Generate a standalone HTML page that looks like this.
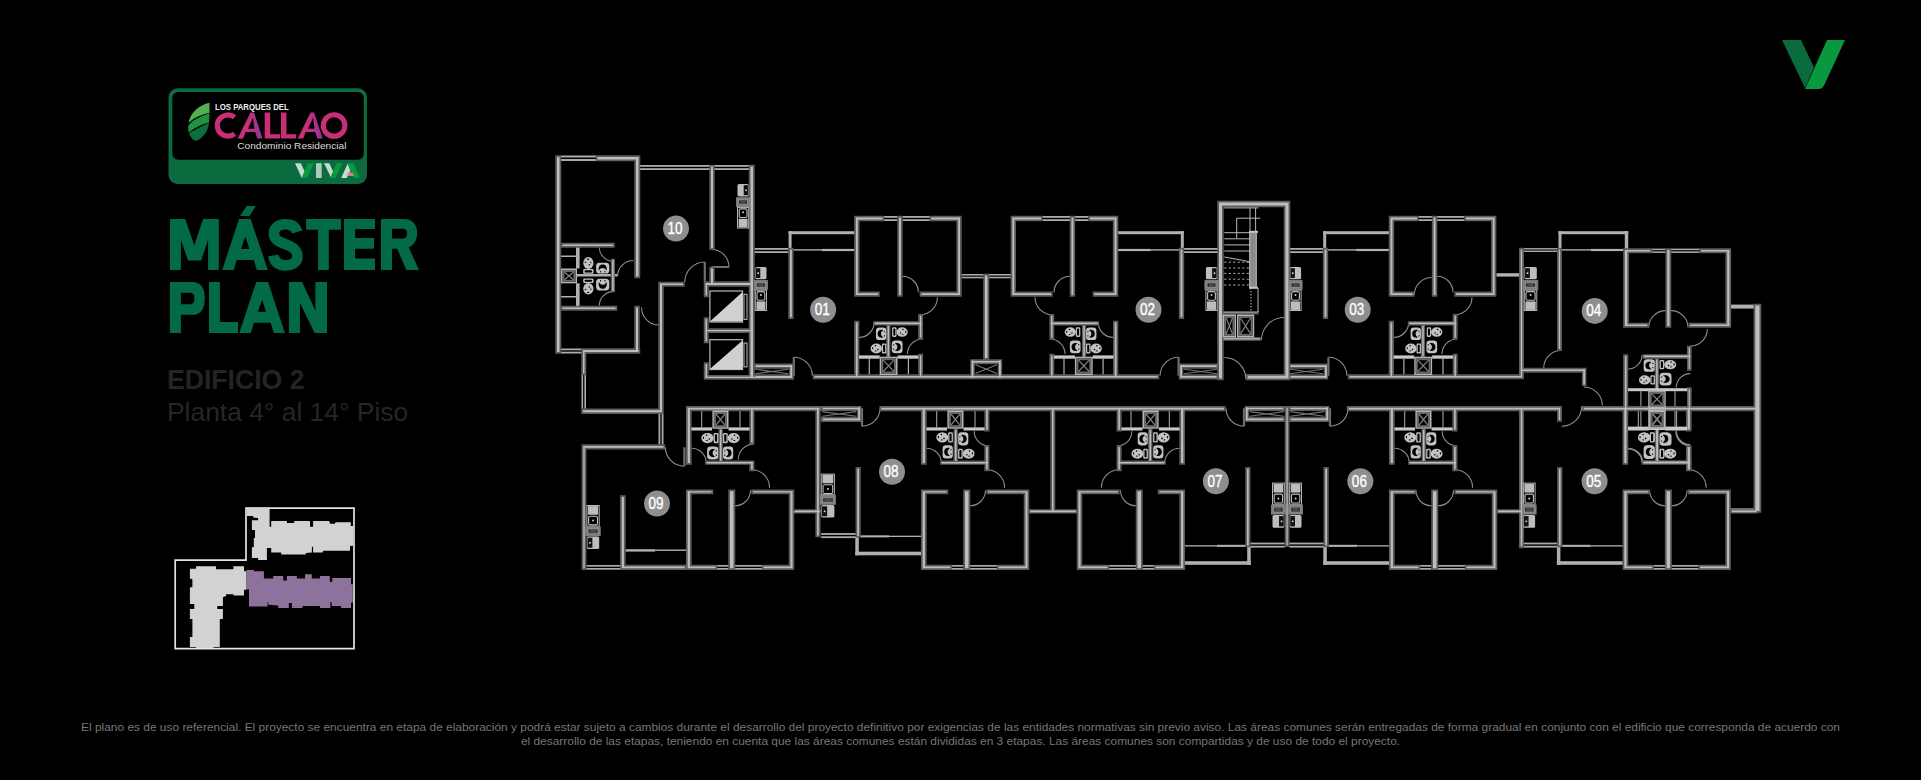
<!DOCTYPE html>
<html><head><meta charset="utf-8">
<style>
html,body{margin:0;padding:0;background:#000;}
body{width:1921px;height:780px;position:relative;overflow:hidden;font-family:"Liberation Sans",sans-serif;}
.abs{position:absolute;}
#title{left:167px;top:213px;color:#036a47;font-weight:bold;font-size:72px;line-height:63px;transform-origin:0 0;transform:scaleX(0.85);letter-spacing:-1px;-webkit-text-stroke:1.2px #036a47;white-space:nowrap;}
#ed{left:167px;top:365px;color:#242424;font-weight:bold;font-size:28px;line-height:30px;white-space:nowrap;transform-origin:0 0;transform:scaleX(0.95);}
#pl{left:167px;top:397px;color:#262626;font-size:26.4px;line-height:30px;white-space:nowrap;}
#foot{left:0;top:719.5px;width:1921px;text-align:center;color:#767676;font-size:10.6px;line-height:14px;transform-origin:960.5px 0;transform:scaleX(1.125);}
svg{position:absolute;left:0;top:0;}
</style></head>
<body>
<div id="ed" class="abs">EDIFICIO 2</div>
<div id="pl" class="abs">Planta 4° al 14° Piso</div>
<div id="foot" class="abs">El plano es de uso referencial. El proyecto se encuentra en etapa de elaboración y podrá estar sujeto a cambios durante el desarrollo del proyecto definitivo por exigencias de las entidades normativas sin previo aviso. Las áreas comunes serán entregadas de forma gradual en conjunto con el edificio que corresponda de acuerdo con<br>el desarrollo de las etapas, teniendo en cuenta que las áreas comunes están divididas en 3 etapas. Las áreas comunes son compartidas y de uso de todo el proyecto.</div>
<svg width="1921" height="780" viewBox="0 0 1921 780">
<!-- top-right V logo -->
<path d="M1782 40 H1801 L1814 67.5 L1805 88 Z" fill="#0b6b3e"/>
<path d="M1827 40 H1845 L1824.5 84.5 Q1822.5 89 1819 89 H1805 Z" fill="#09983f"/>
<!-- title MÁSTER PLAN -->
<g fill="#036a47">
<path d="M170 219 H185.2 L194.3 245.2 L203 219 H218.85 V270 H208.1 V239.9 L201.1 260.6 H188.1 L180.9 239.9 V270 H170 Z"/>
<path fill-rule="evenodd" d="M222.2 270 L239 219 H250.6 L267.9 270 H256.8 L253.9 260.1 H236.6 L233.75 270 Z M241 249 L245.3 236.5 L249.3 249 Z"/>
<path d="M240 215.9 L246.7 206 H255.9 L249.6 215.9 Z"/>
<path fill="none" stroke="#036a47" stroke-width="10.6" d="M297.2 232 C295.5 226.5 291 224.3 285.5 224.3 C278.5 224.3 273.9 228 273.9 233.6 C273.9 240 279.5 242.2 285.5 244.2 C292 246.4 297.4 249.2 297.4 256.6 C297.4 262 292.5 265.4 285.5 265.4 C278.5 265.4 274.4 262 273.4 255.5"/>
<path d="M306.1 219 H341 V229.8 H328.8 V270 H318.1 V229.8 H306.1 Z"/>
<path d="M344 219 H375 V229 H355.1 V238 H374 V248.8 H355.1 V258.6 H375 V270 H344 Z"/>
<path fill-rule="evenodd" d="M381 219 H404 C412.8 219 417.2 224.8 417.2 233 C417.2 240.2 413.8 245.4 408.8 247.4 L419 270 H406.4 L397.2 248.8 H392 V270 H381 Z M392 228.8 H403.3 C406.2 228.8 407 231 407 233.6 C407 236.4 406.2 238.6 403.3 238.6 H392 Z"/>
<path fill-rule="evenodd" d="M169.9 282 H192.5 C200.5 282 204.8 287.5 204.8 298.4 C204.8 309.2 200.5 314.8 192.5 314.8 H180.9 V333 H169.9 Z M180.9 292.7 H190 C193.6 292.7 194.4 295.3 194.4 298.4 C194.4 301.6 193.6 304.2 190 304.2 H180.9 Z"/>
<path d="M209 282 H219.9 V321.9 H238 V333 H209 Z"/>
<path fill-rule="evenodd" d="M239.3 333 L256.2 282 H268.1 L284.9 333 H273.8 L270.75 322.8 H253.9 L250.8 333 Z M257.9 311.7 L262.2 299.8 L265.9 311.7 Z"/>
<path d="M288.9 282 H302.2 L315.4 310.8 V282 H327 V333 H314.6 L300 303 V333 H288.9 Z"/>
</g>
<!-- callao logo -->
<defs>
<linearGradient id="cg" x1="0" x2="1" y1="0" y2="0"><stop offset="0" stop-color="#cc2f78"/><stop offset="0.5" stop-color="#b23489"/><stop offset="1" stop-color="#c8307c"/></linearGradient>
<linearGradient id="vg" x1="0" x2="1" y1="0" y2="0"><stop offset="0" stop-color="#bcd4c8"/><stop offset="0.22" stop-color="#9ccdb0"/><stop offset="0.3" stop-color="#1da64c"/><stop offset="0.45" stop-color="#bcd4c8"/><stop offset="0.55" stop-color="#1da64c"/><stop offset="0.75" stop-color="#bcd4c8"/><stop offset="1" stop-color="#1da64c"/></linearGradient>
</defs>
<g>
<rect x="168.5" y="88.3" width="198.5" height="95.6" rx="9" fill="#0b6a3e"/>
<rect x="172.3" y="92" width="191.5" height="67.8" rx="6" fill="#000"/>
<path d="M209.5 102.7 C199 105 190 113 188.5 123 C195 117 202 114.5 209.5 113 Z" fill="#52b04e"/>
<path d="M209.5 113.5 C200 116 191 121 188.2 126 C188 129 188.5 131 189 132.5 C196 127 203 124 209 122.5 Z" fill="#1f9143"/>
<path d="M209 123 C201 126.5 194 130 189.2 133 C190.5 138 193 140.5 197 140.8 C204 137 208 131 209 123 Z" fill="#0d6d3f"/>
<text x="215" y="109.6" font-family="Liberation Sans" font-weight="bold" font-size="8.8" fill="#eeeeee" transform="translate(215 0) scale(0.885 1) translate(-215 0)">LOS PARQUES DEL</text>
<defs><linearGradient id="ag" x1="0" x2="1" y1="0" y2="0"><stop offset="0.35" stop-color="#cb2f78"/><stop offset="1" stop-color="#8a3797"/></linearGradient></defs>
<path d="M234.6 117.3 A10.6 10.6 0 1 0 234.6 133.7" fill="none" stroke="#ca2e76" stroke-width="5.1"/>
<path fill-rule="evenodd" fill="url(#ag)" d="M237.7 138.6 L250.5 112.4 H254 L262.5 138.6 H257.2 L255.2 132 H245.5 L243.2 138.6 Z M247.9 128.8 L253 117.8 L254.3 128.8 Z"/>
<path fill="#ca2e76" d="M264.7 112.4 H270.2 V134.2 H280 V138.6 H264.7 Z M281 112.4 H286.5 V134.2 H296 V138.6 H281 Z"/>
<path fill-rule="evenodd" fill="url(#ag)" transform="translate(60.1 0)" d="M237.7 138.6 L250.5 112.4 H254 L262.5 138.6 H257.2 L255.2 132 H245.5 L243.2 138.6 Z M247.9 128.8 L253 117.8 L254.3 128.8 Z"/>
<circle cx="334.1" cy="125.5" r="10.8" fill="none" stroke="#ca2e76" stroke-width="5"/>
<text x="237.3" y="149.2" font-family="Liberation Sans" font-size="9.6" fill="#dddddd" transform="translate(237.3 0) scale(1.055 1) translate(-237.3 0)">Condominio Residencial</text>
<path d="M295 163.2 H300.8 L305.2 172.5 L301.8 178 Z M324 163.2 H329.4 L333.6 172.5 L331 177.5 Z M341.2 178 L347.6 163.8 L350.4 170.6 L346.8 178 Z" fill="#c4dacf"/>
<path d="M308 163.2 H314 L307 178 H301.5 Z M336.5 163.2 H342.3 L335.3 178 H330.2 Z M347.4 163.2 H353.4 L359.8 178 H354 Z" fill="#0a9a3e"/>
<rect x="316" y="163.2" width="5.7" height="14.8" fill="#a9cbbb"/>
<path d="M348.2 172.6 H352.5 L353.8 176.1 H347.2 Z" fill="#e67b8b"/>
</g>
<!-- location mini map -->
<path d="M246 508.1 H354 V648.6 H175.2 V560.1 H246 Z" fill="none" stroke="#e4e4e4" stroke-width="1.7"/>
<path d="M246.9 507.6 L269.6 507.6 L269.6 526.8 L271.2 526.8 L271.2 521.1 L286.9 521.1 L286.9 523 L294.2 523 L294.2 521.1 L310 521.1 L310 526.8 L313.1 526.8 L313.1 521.1 L329.2 521.1 L330 523.8 L335 523.8 L335.4 522.2 L350.8 522.2 L350.8 525.9 L353.1 525.9 L353.1 545.7 L350 546.1 L350 550.7 L323.1 550.7 L322.7 552.6 L313.1 552.6 L313.1 546.8 L311.9 546.8 L311.9 552.6 L305.8 553 L305.8 554.5 L281.2 554.5 L281.2 552.6 L271.2 552.6 L271.2 548 L266.9 548 L266.9 559.9 L258.1 559.9 L258.1 558 L251.9 558 L251.9 547.2 L253.8 547.2 L253.8 538 L255 538 L255 529.9 L251.9 529.9 L251.9 520.3 L258.1 520.3 L258.1 518 L253.1 517.6 L253.1 516.1 L246.9 516.1 Z" fill="#d2d2d0"/>
<path d="M196.1 566.2 L216 566.2 L216 569.3 L233.4 569.3 L233.4 566.2 L244 566.2 L244 571.2 L246.5 571.2 L246.5 589.8 L244 589.8 L244 595.4 L233.4 595.4 L233.4 594.2 L226 594.2 L226 596 L222.9 597.3 L222.9 606 L217.3 606 L217.3 609.1 L222.9 609.1 L222.9 619 L219.8 619 L219.8 647 L213.5 647 L213.5 648 L196.1 648 L196.1 647 L189.9 647 L189.9 637.1 L192.4 637.1 L192.4 619 L189.9 619 L189.9 609.1 L194.3 609.1 L194.3 604.1 L189.9 604.1 L189.9 587.3 L192.4 587.3 L192.4 579.3 L189.9 578.6 L189.9 568.7 L196.1 568.7 Z" fill="#d2d2d0"/>
<path d="M246.5 569.9 L254 569.9 L254 571.2 L263.9 571.2 L263.9 578.6 L273.2 578.6 L273.2 576.1 L283.2 576.1 L283.2 580.5 L286.9 580.5 L286.9 576.1 L296.9 576.1 L296.9 578.6 L305 578.6 L305 574.3 L311.8 574.3 L311.8 578.6 L319.9 578.6 L319.9 576.1 L329.8 576.1 L329.8 581.7 L332.3 581.7 L332.3 578 L351 578 L351 584.2 L352.8 584.2 L352.8 602.3 L351 602.9 L351 607.9 L341 607.9 L341 606 L331.7 606 L331.7 602.3 L330.4 602.3 L330.4 607.9 L319.9 607.9 L319.9 606 L302.5 606 L302.5 607.9 L291.9 607.9 L291.9 602.9 L288.8 602.9 L288.8 607.9 L278.2 607.9 L278.2 605.4 L268.3 604.8 L268.3 602.3 L267.6 602.3 L267.6 606.6 L249 606.6 L249 589.2 L246.5 589.2 Z" fill="#8d729c"/>
<rect x="561" y="155.5" width="35" height="1.98" fill="#ababab"/>
<rect x="561" y="159.02" width="35" height="1.98" fill="#ababab"/>
<rect x="640" y="165" width="110" height="1.8" fill="#ababab"/>
<rect x="640" y="168.2" width="110" height="1.8" fill="#ababab"/>
<rect x="561" y="348.5" width="21" height="1.8" fill="#ababab"/>
<rect x="561" y="351.7" width="21" height="1.8" fill="#ababab"/>
<rect x="581.5" y="375" width="1.62" height="33.8" fill="#ababab"/>
<rect x="584.38" y="375" width="1.62" height="33.8" fill="#ababab"/>
<rect x="658.5" y="413.7" width="1.8" height="30.9" fill="#ababab"/>
<rect x="661.7" y="413.7" width="1.8" height="30.9" fill="#ababab"/>
<rect x="754.5" y="248" width="34" height="1.8" fill="#ababab"/>
<rect x="754.5" y="251.2" width="34" height="1.8" fill="#ababab"/>
<rect x="884" y="216" width="13.5" height="1.8" fill="#ababab"/>
<rect x="884" y="219.2" width="13.5" height="1.8" fill="#ababab"/>
<rect x="902.4" y="216" width="27.4" height="1.8" fill="#ababab"/>
<rect x="902.4" y="219.2" width="27.4" height="1.8" fill="#ababab"/>
<rect x="961.5" y="274" width="24.7" height="1.55" fill="#ababab"/>
<rect x="961.5" y="276.75" width="24.7" height="1.55" fill="#ababab"/>
<rect x="1183.9" y="248" width="34" height="1.8" fill="#ababab"/>
<rect x="1183.9" y="251.2" width="34" height="1.8" fill="#ababab"/>
<rect x="1074.9" y="216" width="13.5" height="1.8" fill="#ababab"/>
<rect x="1074.9" y="219.2" width="13.5" height="1.8" fill="#ababab"/>
<rect x="1042.6" y="216" width="27.4" height="1.8" fill="#ababab"/>
<rect x="1042.6" y="219.2" width="27.4" height="1.8" fill="#ababab"/>
<rect x="986.2" y="274" width="24.7" height="1.55" fill="#ababab"/>
<rect x="986.2" y="276.75" width="24.7" height="1.55" fill="#ababab"/>
<rect x="1289.1" y="248" width="34" height="1.8" fill="#ababab"/>
<rect x="1289.1" y="251.2" width="34" height="1.8" fill="#ababab"/>
<rect x="1418.6" y="216" width="13.5" height="1.8" fill="#ababab"/>
<rect x="1418.6" y="219.2" width="13.5" height="1.8" fill="#ababab"/>
<rect x="1437" y="216" width="27.4" height="1.8" fill="#ababab"/>
<rect x="1437" y="219.2" width="27.4" height="1.8" fill="#ababab"/>
<rect x="1523.7" y="248.1" width="33.6" height="1.4" fill="#ababab"/>
<rect x="1523.7" y="250.6" width="33.6" height="1.4" fill="#ababab"/>
<rect x="1651.9" y="248.6" width="13.8" height="1.55" fill="#ababab"/>
<rect x="1651.9" y="251.35" width="13.8" height="1.55" fill="#ababab"/>
<rect x="1671" y="248.6" width="28.5" height="1.55" fill="#ababab"/>
<rect x="1671" y="251.35" width="28.5" height="1.55" fill="#ababab"/>
<rect x="1420" y="565" width="11.5" height="1.69" fill="#ababab"/>
<rect x="1420" y="568.01" width="11.5" height="1.69" fill="#ababab"/>
<rect x="1438" y="565" width="27" height="1.69" fill="#ababab"/>
<rect x="1438" y="568.01" width="27" height="1.69" fill="#ababab"/>
<rect x="1142.5" y="565" width="11.5" height="1.69" fill="#ababab"/>
<rect x="1142.5" y="568.01" width="11.5" height="1.69" fill="#ababab"/>
<rect x="1109" y="565" width="27" height="1.69" fill="#ababab"/>
<rect x="1109" y="568.01" width="27" height="1.69" fill="#ababab"/>
<rect x="952" y="565" width="11.5" height="1.69" fill="#ababab"/>
<rect x="952" y="568.01" width="11.5" height="1.69" fill="#ababab"/>
<rect x="970" y="565" width="27" height="1.69" fill="#ababab"/>
<rect x="970" y="568.01" width="27" height="1.69" fill="#ababab"/>
<rect x="1653.6" y="565" width="11.5" height="1.69" fill="#ababab"/>
<rect x="1653.6" y="568.01" width="11.5" height="1.69" fill="#ababab"/>
<rect x="1671.6" y="565" width="27" height="1.69" fill="#ababab"/>
<rect x="1671.6" y="568.01" width="27" height="1.69" fill="#ababab"/>
<rect x="717" y="565" width="11.5" height="1.69" fill="#ababab"/>
<rect x="717" y="568.01" width="11.5" height="1.69" fill="#ababab"/>
<rect x="735" y="565" width="27" height="1.69" fill="#ababab"/>
<rect x="735" y="568.01" width="27" height="1.69" fill="#ababab"/>
<rect x="1289.2" y="542.6" width="34.6" height="1.8" fill="#ababab"/>
<rect x="1289.2" y="545.8" width="34.6" height="1.8" fill="#ababab"/>
<rect x="1250.2" y="542.6" width="34.6" height="1.8" fill="#ababab"/>
<rect x="1250.2" y="545.8" width="34.6" height="1.8" fill="#ababab"/>
<rect x="1522.8" y="542.6" width="34.6" height="1.8" fill="#ababab"/>
<rect x="1522.8" y="545.8" width="34.6" height="1.8" fill="#ababab"/>
<rect x="821.2" y="533.1" width="34.6" height="1.8" fill="#ababab"/>
<rect x="821.2" y="536.3" width="34.6" height="1.8" fill="#ababab"/>
<rect x="586.2" y="565" width="35.3" height="1.69" fill="#ababab"/>
<rect x="586.2" y="568.01" width="35.3" height="1.69" fill="#ababab"/>
<rect x="576" y="247" width="3.6" height="21.5" fill="#b0b0b0"/>
<rect x="576" y="283.3" width="3.6" height="22.7" fill="#b0b0b0"/>
<rect x="577" y="274" width="40" height="2.5" fill="#b0b0b0"/>
<rect x="561" y="255.5" width="15" height="1.5" fill="#b0b0b0"/>
<rect x="561" y="296" width="15" height="1.5" fill="#b0b0b0"/>
<rect x="788.6" y="231.2" width="3" height="17.8" fill="#b0b0b0"/>
<rect x="788.6" y="231.2" width="65.9" height="3" fill="#b0b0b0"/>
<rect x="793.3" y="249.2" width="28.2" height="1.4" fill="#b0b0b0"/>
<rect x="821.5" y="248.9" width="33" height="2.2" fill="#b0b0b0"/>
<rect x="868.7" y="358.7" width="1.2" height="15.7" fill="#b0b0b0"/>
<rect x="907.8" y="358.7" width="1.2" height="15.7" fill="#b0b0b0"/>
<rect x="1180.8" y="231.2" width="3" height="17.8" fill="#b0b0b0"/>
<rect x="1117.9" y="231.2" width="65.9" height="3" fill="#b0b0b0"/>
<rect x="1150.9" y="249.2" width="28.2" height="1.4" fill="#b0b0b0"/>
<rect x="1117.9" y="248.9" width="33" height="2.2" fill="#b0b0b0"/>
<rect x="1102.5" y="358.7" width="1.2" height="15.7" fill="#b0b0b0"/>
<rect x="1063.4" y="358.7" width="1.2" height="15.7" fill="#b0b0b0"/>
<rect x="1323.2" y="231.2" width="3" height="17.8" fill="#b0b0b0"/>
<rect x="1323.2" y="231.2" width="65.9" height="3" fill="#b0b0b0"/>
<rect x="1327.9" y="249.2" width="28.2" height="1.4" fill="#b0b0b0"/>
<rect x="1356.1" y="248.9" width="33" height="2.2" fill="#b0b0b0"/>
<rect x="1403.3" y="358.7" width="1.2" height="15.7" fill="#b0b0b0"/>
<rect x="1442.4" y="358.7" width="1.2" height="15.7" fill="#b0b0b0"/>
<rect x="1496.4" y="273.2" width="22.8" height="3.4" fill="#b0b0b0"/>
<rect x="1558.5" y="231.2" width="3" height="17.8" fill="#b0b0b0"/>
<rect x="1558.5" y="231.2" width="69.7" height="3" fill="#b0b0b0"/>
<rect x="1624.8" y="231.2" width="3.4" height="20.8" fill="#b0b0b0"/>
<rect x="1561.7" y="249.2" width="29.3" height="1.4" fill="#b0b0b0"/>
<rect x="1591" y="248.9" width="32.4" height="2.2" fill="#b0b0b0"/>
<rect x="1730.9" y="304.6" width="23.6" height="4" fill="#b0b0b0"/>
<rect x="1730.5" y="508.4" width="24" height="3.8" fill="#b0b0b0"/>
<rect x="1640.4" y="391.2" width="1" height="14.8" fill="#b0b0b0"/>
<rect x="1674.5" y="391.2" width="1" height="14.8" fill="#b0b0b0"/>
<rect x="1640.4" y="411" width="1" height="15.6" fill="#b0b0b0"/>
<rect x="1674.5" y="411" width="1" height="15.6" fill="#b0b0b0"/>
<rect x="1404.2" y="411" width="1" height="16.4" fill="#b0b0b0"/>
<rect x="1442.5" y="411" width="1" height="16.4" fill="#b0b0b0"/>
<rect x="1168.8" y="411" width="1" height="16.4" fill="#b0b0b0"/>
<rect x="1130.5" y="411" width="1" height="16.4" fill="#b0b0b0"/>
<rect x="936.2" y="411" width="1" height="16.4" fill="#b0b0b0"/>
<rect x="974.5" y="411" width="1" height="16.4" fill="#b0b0b0"/>
<rect x="1637.8" y="411" width="1" height="16.4" fill="#b0b0b0"/>
<rect x="1676.1" y="411" width="1" height="16.4" fill="#b0b0b0"/>
<rect x="701.2" y="411" width="1" height="16.4" fill="#b0b0b0"/>
<rect x="739.5" y="411" width="1" height="16.4" fill="#b0b0b0"/>
<rect x="1323.3" y="546" width="3.5" height="18.8" fill="#b0b0b0"/>
<rect x="1323.3" y="561.2" width="65.9" height="3.6" fill="#b0b0b0"/>
<rect x="1328.5" y="544.8" width="28.5" height="2.1" fill="#b0b0b0"/>
<rect x="1357" y="545.2" width="32.2" height="1.3" fill="#b0b0b0"/>
<rect x="1247.2" y="546" width="3.5" height="18.8" fill="#b0b0b0"/>
<rect x="1184.8" y="561.2" width="65.9" height="3.6" fill="#b0b0b0"/>
<rect x="1217" y="544.8" width="28.5" height="2.1" fill="#b0b0b0"/>
<rect x="1184.8" y="545.2" width="32.2" height="1.3" fill="#b0b0b0"/>
<rect x="1556.9" y="546" width="3.5" height="18.8" fill="#b0b0b0"/>
<rect x="1556.9" y="561.2" width="65.9" height="3.6" fill="#b0b0b0"/>
<rect x="1562.1" y="544.8" width="28.5" height="2.1" fill="#b0b0b0"/>
<rect x="1590.6" y="545.2" width="32.2" height="1.3" fill="#b0b0b0"/>
<rect x="855.3" y="536.5" width="3.5" height="18.8" fill="#b0b0b0"/>
<rect x="855.3" y="551.7" width="65.9" height="3.6" fill="#b0b0b0"/>
<rect x="860.5" y="535.3" width="28.5" height="2.1" fill="#b0b0b0"/>
<rect x="889" y="535.7" width="32.2" height="1.3" fill="#b0b0b0"/>
<rect x="625.4" y="549.2" width="29.6" height="2.4" fill="#b0b0b0"/>
<rect x="655" y="549.5" width="31.2" height="1.4" fill="#b0b0b0"/>
<path d="M599.3 247.2 A14 14 0 0 0 613.3 261.2 M599.3 305.6 A14 14 0 0 1 613.3 291.6 M617.5 276.5 A16 16 0 0 1 633.5 260.5 M641.5 307.5 A17.5 17.5 0 0 0 659 325 M684.8 282 A20 20 0 0 1 704.8 262 M711.5 249.5 A17.5 17.5 0 0 1 729 267 M902.4 276.3 A16 16 0 0 1 918.4 292.3 M937.4 297.2 A17.5 17.5 0 0 1 919.9 314.7 M874.1 322.4 A15 15 0 0 1 859.1 337.4 M922.4 339 A15 15 0 0 0 907.4 354 M793.8 357.3 A18.5 18.5 0 0 1 812.3 375.8 M1070 276.3 A16 16 0 0 0 1054 292.3 M1035 297.2 A17.5 17.5 0 0 0 1052.5 314.7 M1098.3 322.4 A15 15 0 0 0 1113.3 337.4 M1050 339 A15 15 0 0 1 1065 354 M1178.6 357.3 A18.5 18.5 0 0 0 1160.1 375.8 M1437 276.3 A16 16 0 0 1 1453 292.3 M1472 297.2 A17.5 17.5 0 0 1 1454.5 314.7 M1408.7 322.4 A15 15 0 0 1 1393.7 337.4 M1457 339 A15 15 0 0 0 1442 354 M1328.4 357.3 A18.5 18.5 0 0 1 1346.9 375.8 M1414.3 295 A17.5 17.5 0 0 1 1431.8 277.5 M1261.5 340 A22.5 22.5 0 0 1 1284 317.5 M1224.3 357.5 A21.5 21.5 0 0 1 1245.8 379 M1648.7 327.6 A17 17 0 0 1 1665.7 310.6 M1671 310.6 A17 17 0 0 1 1688 327.6 M1707.3 329.1 A17 17 0 0 1 1690.3 346.1 M1543.7 368 A17.5 17.5 0 0 1 1561.2 350.5 M1583.8 387 A18.5 18.5 0 0 1 1602.3 405.5 M1581.7 406.2 A20 20 0 0 1 1561.7 426.2 M1642 355 A14 14 0 0 1 1628 369 M1690.3 373.6 A14 14 0 0 0 1676.3 387.6 M1690.3 444.6 A14 14 0 0 1 1676.3 430.6 M1628 449 A14 14 0 0 1 1642 463 M1348 408.2 A18 18 0 0 1 1330 426.2 M1416 490.3 A15.5 15.5 0 0 0 1431.5 505.8 M1438 505.8 A15.5 15.5 0 0 0 1453.5 490.3 M1454.6 469.7 A18 18 0 0 1 1472.6 487.7 M1394.4 448.3 A15 15 0 0 1 1409.4 463.3 M1442.2 431.3 A14.5 14.5 0 0 0 1456.7 445.8 M1226 408.2 A18 18 0 0 0 1244 426.2 M1136 505.8 A15.5 15.5 0 0 1 1120.5 490.3 M1119.4 469.7 A18 18 0 0 0 1101.4 487.7 M1179.6 448.3 A15 15 0 0 0 1164.6 463.3 M1131.8 431.3 A14.5 14.5 0 0 1 1117.3 445.8 M880 408.2 A18 18 0 0 1 862 426.2 M970 505.8 A15.5 15.5 0 0 0 985.5 490.3 M986.6 469.7 A18 18 0 0 1 1004.6 487.7 M926.4 448.3 A15 15 0 0 1 941.4 463.3 M974.2 431.3 A14.5 14.5 0 0 0 988.7 445.8 M1649.6 490.3 A15.5 15.5 0 0 0 1665.1 505.8 M1671.6 505.8 A15.5 15.5 0 0 0 1687.1 490.3 M1688.2 469.7 A18 18 0 0 1 1706.2 487.7 M1628 448.3 A15 15 0 0 1 1643 463.3 M1675.8 431.3 A14.5 14.5 0 0 0 1690.3 445.8 M735 505.8 A15.5 15.5 0 0 0 750.5 490.3 M751.6 469.7 A18 18 0 0 1 769.6 487.7 M691.4 448.3 A15 15 0 0 1 706.4 463.3 M753.7 444.1 A15.4 15.4 0 0 0 738.3 459.5 M665.4 447.2 A19 19 0 0 0 684.4 466.2" fill="none" stroke="#8e8e8e" stroke-width="1.1"/>
<path d="M704.8 282 L704.8 262 M711.5 267 L729 267 M793.8 375.8 L793.8 357.3 M1178.6 375.8 L1178.6 357.3 M1328.4 375.8 L1328.4 357.3 M1330 408.2 L1330 426.2 M1244 408.2 L1244 426.2 M862 408.2 L862 426.2 M684.4 447.2 L684.4 466.2" fill="none" stroke="#6e6e6e" stroke-width="2.2"/>
<path d="M555.25 155.25H561.25V353.75H555.25ZM595.75 155.25H640.25V161.25H595.75ZM634.25 155.25H640.25V278.25H634.25ZM709.25 164.75H714.75V249.75H709.25ZM709.25 266.75H714.75V286.75H709.25ZM748.75 164.75H754.75V379.85H748.75ZM560.75 242.75H614.75V247.75H560.75ZM560.75 305.75H617.25V310.75H560.75ZM581.75 348.25H640.25V353.75H581.75ZM634.25 305.75H639.75V353.75H634.25ZM581.25 348.25H586.25V375.25H581.25ZM581.25 408.55H663.75V413.95H581.25ZM658.25 281.75H663.75V413.95H658.25ZM658.25 281.75H684.75V286.75H658.25ZM703.75 281.25H754.75V286.75H703.75ZM703.75 281.25H708.75V297.25H703.75ZM703.75 317.25H708.75V343.25H703.75ZM703.75 362.25H708.75V379.85H703.75ZM703.75 328.15H754.75V333.05H703.75ZM703.75 374.95H793.95V379.85H703.75ZM610.75 258.75H615.05V292.25H610.75ZM788.25 247.75H793.55V318.95H788.25ZM854.15 215.75H859.55V296.65H854.15ZM854.15 215.75H884.25V221.25H854.15ZM897.25 215.75H902.65V296.65H897.25ZM929.55 215.75H961.75V221.25H929.55ZM956.45 215.75H961.75V296.65H956.45ZM854.15 291.55H879.75V296.65H854.15ZM919.65 291.55H961.75V296.65H919.65ZM918.15 314.05H923.05V339.45H918.15ZM918.15 353.75H923.05V379.25H918.15ZM854.15 320.75H859.35V379.25H854.15ZM873.25 321.25H923.05V325.55H873.25ZM886.25 324.75H890.45V357.25H886.25ZM754.05 363.55H793.55V368.65H754.05ZM754.05 374.35H793.55V379.45H754.05ZM789.05 363.55H793.55V379.45H789.05ZM983.65 273.75H989.25V359.85H983.65ZM1178.85 247.75H1184.15V318.95H1178.85ZM1112.85 215.75H1118.25V296.65H1112.85ZM1088.15 215.75H1118.25V221.25H1088.15ZM1069.75 215.75H1075.15V296.65H1069.75ZM1010.65 215.75H1042.85V221.25H1010.65ZM1010.65 215.75H1015.95V296.65H1010.65ZM1092.65 291.55H1118.25V296.65H1092.65ZM1010.65 291.55H1052.75V296.65H1010.65ZM1049.35 314.05H1054.25V339.45H1049.35ZM1049.35 353.75H1054.25V379.25H1049.35ZM1113.05 320.75H1118.25V379.25H1113.05ZM1049.35 321.25H1099.15V325.55H1049.35ZM1081.95 324.75H1086.15V357.25H1081.95ZM1178.85 363.55H1218.35V368.65H1178.85ZM1178.85 374.35H1218.35V379.45H1178.85ZM1178.85 363.55H1183.35V379.45H1178.85ZM983.15 273.75H988.75V359.85H983.15ZM1322.85 247.75H1328.15V318.95H1322.85ZM1388.75 215.75H1394.15V296.65H1388.75ZM1388.75 215.75H1418.85V221.25H1388.75ZM1431.85 215.75H1437.25V296.65H1431.85ZM1464.15 215.75H1496.35V221.25H1464.15ZM1491.05 215.75H1496.35V296.65H1491.05ZM1388.75 291.55H1414.35V296.65H1388.75ZM1454.25 291.55H1496.35V296.65H1454.25ZM1452.75 314.05H1457.65V339.45H1452.75ZM1452.75 353.75H1457.65V379.25H1452.75ZM1388.75 320.75H1393.95V379.25H1388.75ZM1407.85 321.25H1457.65V325.55H1407.85ZM1420.85 324.75H1425.05V357.25H1420.85ZM1288.65 363.55H1328.15V368.65H1288.65ZM1288.65 374.35H1328.15V379.45H1288.65ZM1323.65 363.55H1328.15V379.45H1323.65ZM812.75 374.15H1159.25V379.25H812.75ZM970.25 359.15H1002.15V364.25H970.25ZM970.25 374.15H1002.15V379.25H970.25ZM970.25 359.15H974.75V379.25H970.25ZM997.65 359.15H1002.15V379.25H997.65ZM1347.75 374.15H1523.95V379.25H1347.75ZM1518.95 247.75H1523.95V379.25H1518.95ZM1217.25 200.75H1223.75V380.25H1217.25ZM1283.75 200.75H1290.25V380.25H1283.75ZM1217.25 200.75H1290.25V207.25H1217.25ZM1222.15 311.05H1258.75V314.45H1222.15ZM1222.15 336.95H1261.05V340.85H1222.15ZM1245.95 373.95H1290.25V380.25H1245.95ZM1518.95 367.75H1586.45V372.85H1518.95ZM1581.95 367.75H1586.45V385.95H1581.95ZM1557.05 247.75H1561.95V350.75H1557.05ZM1623.15 248.35H1629.05V327.85H1623.15ZM1623.15 248.35H1652.15V253.15H1623.15ZM1665.45 248.35H1671.25V327.85H1665.45ZM1699.25 248.35H1731.15V253.15H1699.25ZM1725.45 248.35H1731.15V327.85H1725.45ZM1623.15 322.75H1649.05V327.85H1623.15ZM1688.55 322.75H1731.15V327.85H1688.55ZM1753.55 303.75H1761.25V512.75H1753.55ZM1623.15 354.15H1628.25V464.85H1623.15ZM1686.95 345.75H1691.65V370.85H1686.95ZM1686.95 387.35H1691.65V430.85H1686.95ZM1686.95 445.75H1691.65V471.25H1686.95ZM1642.45 354.15H1691.65V358.65H1642.45ZM1642.45 460.15H1691.65V464.65H1642.45ZM1654.75 358.15H1658.95V390.25H1654.75ZM1654.75 427.75H1658.95V460.75H1654.75ZM685.95 405.95H821.25V411.25H685.95ZM879.45 405.95H1225.65V411.25H879.45ZM1346.75 405.95H1561.95V411.25H1346.75ZM1557.05 405.95H1561.95V421.65H1557.05ZM1581.95 405.95H1759.75V411.25H1581.95ZM1388.95 489.45H1394.65V569.95H1388.95ZM1388.95 489.45H1416.25V494.25H1388.95ZM1454.35 489.45H1497.25V494.25H1454.35ZM1431.25 489.45H1438.25V569.95H1431.25ZM1491.75 489.45H1497.25V569.95H1491.75ZM1388.95 564.75H1420.25V569.95H1388.95ZM1464.75 564.75H1497.25V569.95H1464.75ZM1496.75 509.25H1524.05V513.55H1496.75ZM1388.95 405.95H1394.65V464.85H1388.95ZM1452.35 405.95H1457.45V431.55H1452.35ZM1452.35 445.15H1457.45V471.25H1452.35ZM1408.25 460.55H1457.45V464.85H1408.25ZM1421.55 428.45H1425.85V462.25H1421.55ZM1288.95 405.95H1329.45V411.05H1288.95ZM1288.95 416.85H1329.45V421.95H1288.95ZM1324.95 405.95H1329.45V421.95H1324.95ZM1179.35 489.45H1185.05V569.95H1179.35ZM1157.75 489.45H1185.05V494.25H1157.75ZM1076.75 489.45H1119.65V494.25H1076.75ZM1135.75 489.45H1142.75V569.95H1135.75ZM1076.75 489.45H1082.25V569.95H1076.75ZM1153.75 564.75H1185.05V569.95H1153.75ZM1076.75 564.75H1109.25V569.95H1076.75ZM1049.95 509.25H1077.25V513.55H1049.95ZM1179.35 405.95H1185.05V464.85H1179.35ZM1116.55 405.95H1121.65V431.55H1116.55ZM1116.55 445.15H1121.65V471.25H1116.55ZM1116.55 460.55H1165.75V464.85H1116.55ZM1148.15 428.45H1152.45V462.25H1148.15ZM1244.55 405.95H1285.05V411.05H1244.55ZM1244.55 416.85H1285.05V421.95H1244.55ZM1244.55 405.95H1249.05V421.95H1244.55ZM920.95 489.45H926.65V569.95H920.95ZM920.95 489.45H948.25V494.25H920.95ZM986.35 489.45H1029.25V494.25H986.35ZM963.25 489.45H970.25V569.95H963.25ZM1023.75 489.45H1029.25V569.95H1023.75ZM920.95 564.75H952.25V569.95H920.95ZM996.75 564.75H1029.25V569.95H996.75ZM1028.75 509.25H1056.05V513.55H1028.75ZM920.95 405.95H926.65V464.85H920.95ZM984.35 405.95H989.45V431.55H984.35ZM984.35 445.15H989.45V471.25H984.35ZM940.25 460.55H989.45V464.85H940.25ZM953.55 428.45H957.85V462.25H953.55ZM820.95 405.95H861.45V411.05H820.95ZM820.95 416.85H861.45V421.95H820.95ZM856.95 405.95H861.45V421.95H856.95ZM1622.55 489.45H1628.25V569.95H1622.55ZM1622.55 489.45H1649.85V494.25H1622.55ZM1687.95 489.45H1730.85V494.25H1687.95ZM1664.85 489.45H1671.85V569.95H1664.85ZM1725.35 489.45H1730.85V569.95H1725.35ZM1622.55 564.75H1653.85V569.95H1622.55ZM1698.35 564.75H1730.85V569.95H1698.35ZM1730.35 509.25H1757.65V513.55H1730.35ZM1622.55 405.95H1628.25V464.85H1622.55ZM1685.95 405.95H1691.05V431.55H1685.95ZM1685.95 445.15H1691.05V471.25H1685.95ZM1641.85 460.55H1691.05V464.85H1641.85ZM1655.15 428.45H1659.45V462.25H1655.15ZM685.95 489.45H691.65V569.95H685.95ZM685.95 489.45H713.25V494.25H685.95ZM751.35 489.45H794.25V494.25H751.35ZM728.25 489.45H735.25V569.95H728.25ZM788.75 489.45H794.25V569.95H788.75ZM685.95 564.75H717.25V569.95H685.95ZM761.75 564.75H794.25V569.95H761.75ZM793.75 509.25H821.05V513.55H793.75ZM685.95 405.95H691.65V464.85H685.95ZM749.35 405.95H754.45V444.35H749.35ZM749.35 460.55H754.45V471.25H749.35ZM705.25 460.55H754.45V464.85H705.25ZM718.55 428.45H722.85V462.25H718.55ZM1284.75 405.95H1289.45V546.95H1284.75ZM1518.95 405.95H1524.05V548.25H1518.95ZM1323.55 466.95H1328.75V547.15H1323.55ZM1245.25 466.95H1250.45V547.15H1245.25ZM1557.15 466.95H1562.35V547.15H1557.15ZM1050.25 405.95H1055.25V512.25H1050.25ZM1500.75 509.15H1519.45V513.05H1500.75ZM815.35 405.95H820.55V537.25H815.35ZM855.55 466.95H860.75V537.65H855.55ZM581.55 444.35H665.25V449.45H581.55ZM581.55 444.35H586.45V569.95H581.55ZM621.25 564.75H686.45V569.95H621.25ZM620.05 495.15H625.65V569.95H620.05ZM791.75 510.05H815.25V513.55H791.75Z" fill="#5c5c5c"/>
<path d="M557 157H559.5V352H557ZM597.5 157H638.5V159.5H597.5ZM636 157H638.5V276.5H636ZM711 166.5H713V248H711ZM711 268.5H713V285H711ZM750.5 166.5H753V378.1H750.5ZM562.5 244.5H613V246H562.5ZM562.5 307.5H615.5V309H562.5ZM583.5 350H638.5V352H583.5ZM636 307.5H638V352H636ZM583 350H584.5V373.5H583ZM583 410.3H662V412.2H583ZM660 283.5H662V412.2H660ZM660 283.5H683V285H660ZM705.5 283H753V285H705.5ZM705.5 283H707V295.5H705.5ZM705.5 319H707V341.5H705.5ZM705.5 364H707V378.1H705.5ZM705.5 329.9H753V331.3H705.5ZM705.5 376.7H792.2V378.1H705.5ZM612.1 260.1H613.7V290.9H612.1ZM790 249.5H791.8V317.2H790ZM855.9 217.5H857.8V294.9H855.9ZM855.9 217.5H882.5V219.5H855.9ZM899 217.5H900.9V294.9H899ZM931.3 217.5H960V219.5H931.3ZM958.2 217.5H960V294.9H958.2ZM855.9 293.3H878V294.9H855.9ZM921.4 293.3H960V294.9H921.4ZM919.9 315.8H921.3V337.7H919.9ZM919.9 355.5H921.3V377.5H919.9ZM855.9 322.5H857.6V377.5H855.9ZM874.6 322.6H921.7V324.2H874.6ZM887.6 326.1H889.1V355.9H887.6ZM755.8 365.3H791.8V366.9H755.8ZM755.8 376.1H791.8V377.7H755.8ZM790.4 364.9H792.2V378.1H790.4ZM985.4 275.5H987.5V358.1H985.4ZM1180.6 249.5H1182.4V317.2H1180.6ZM1114.6 217.5H1116.5V294.9H1114.6ZM1089.9 217.5H1116.5V219.5H1089.9ZM1071.5 217.5H1073.4V294.9H1071.5ZM1012.4 217.5H1041.1V219.5H1012.4ZM1012.4 217.5H1014.2V294.9H1012.4ZM1094.4 293.3H1116.5V294.9H1094.4ZM1012.4 293.3H1051V294.9H1012.4ZM1051.1 315.8H1052.5V337.7H1051.1ZM1051.1 355.5H1052.5V377.5H1051.1ZM1114.8 322.5H1116.5V377.5H1114.8ZM1050.7 322.6H1097.8V324.2H1050.7ZM1083.3 326.1H1084.8V355.9H1083.3ZM1180.6 365.3H1216.6V366.9H1180.6ZM1180.6 376.1H1216.6V377.7H1180.6ZM1180.2 364.9H1182V378.1H1180.2ZM984.9 275.5H987V358.1H984.9ZM1324.6 249.5H1326.4V317.2H1324.6ZM1390.5 217.5H1392.4V294.9H1390.5ZM1390.5 217.5H1417.1V219.5H1390.5ZM1433.6 217.5H1435.5V294.9H1433.6ZM1465.9 217.5H1494.6V219.5H1465.9ZM1492.8 217.5H1494.6V294.9H1492.8ZM1390.5 293.3H1412.6V294.9H1390.5ZM1456 293.3H1494.6V294.9H1456ZM1454.5 315.8H1455.9V337.7H1454.5ZM1454.5 355.5H1455.9V377.5H1454.5ZM1390.5 322.5H1392.2V377.5H1390.5ZM1409.2 322.6H1456.3V324.2H1409.2ZM1422.2 326.1H1423.7V355.9H1422.2ZM1290.4 365.3H1326.4V366.9H1290.4ZM1290.4 376.1H1326.4V377.7H1290.4ZM1325 364.9H1326.8V378.1H1325ZM814.5 375.9H1157.5V377.5H814.5ZM972 360.9H1000.4V362.5H972ZM972 375.9H1000.4V377.5H972ZM971.6 360.5H973.4V377.9H971.6ZM999 360.5H1000.8V377.9H999ZM1349.5 375.9H1522.2V377.5H1349.5ZM1520.7 249.5H1522.2V377.5H1520.7ZM1219 202.5H1222V378.5H1219ZM1285.5 202.5H1288.5V378.5H1285.5ZM1219 202.5H1288.5V205.5H1219ZM1223.5 312.4H1257.4V313.1H1223.5ZM1223.5 338.3H1259.7V339.5H1223.5ZM1247.7 375.7H1288.5V378.5H1247.7ZM1520.7 369.5H1584.7V371.1H1520.7ZM1583.3 369.1H1585.1V384.6H1583.3ZM1558.8 249.5H1560.2V349H1558.8ZM1624.9 250.1H1627.3V326.1H1624.9ZM1624.9 250.1H1650.4V251.4H1624.9ZM1667.2 250.1H1669.5V326.1H1667.2ZM1701 250.1H1729.4V251.4H1701ZM1727.2 250.1H1729.4V326.1H1727.2ZM1624.9 324.5H1647.3V326.1H1624.9ZM1690.3 324.5H1729.4V326.1H1690.3ZM1755.3 305.5H1759.5V511H1755.3ZM1624.9 355.9H1626.5V463.1H1624.9ZM1688.7 347.5H1689.9V369.1H1688.7ZM1688.7 389.1H1689.9V429.1H1688.7ZM1688.7 447.5H1689.9V469.5H1688.7ZM1643.8 355.5H1690.3V357.3H1643.8ZM1643.8 461.5H1690.3V463.3H1643.8ZM1656.1 359.5H1657.6V388.9H1656.1ZM1656.1 429.1H1657.6V459.4H1656.1ZM687.7 407.7H819.5V409.5H687.7ZM881.2 407.7H1223.9V409.5H881.2ZM1348.5 407.7H1560.2V409.5H1348.5ZM1558.8 407.7H1560.2V419.9H1558.8ZM1583.7 407.7H1758V409.5H1583.7ZM1390.7 491.2H1392.9V568.2H1390.7ZM1390.7 491.2H1414.5V492.5H1390.7ZM1456.1 491.2H1495.5V492.5H1456.1ZM1433 491.2H1436.5V568.2H1433ZM1493.5 491.2H1495.5V568.2H1493.5ZM1390.7 566.5H1418.5V568.2H1390.7ZM1466.5 566.5H1495.5V568.2H1466.5ZM1498.1 510.6H1522.7V512.2H1498.1ZM1390.7 407.7H1392.9V463.1H1390.7ZM1454.1 407.7H1455.7V429.8H1454.1ZM1454.1 446.9H1455.7V469.5H1454.1ZM1409.6 461.9H1456.1V463.5H1409.6ZM1422.9 429.8H1424.5V460.9H1422.9ZM1290.7 407.7H1327.7V409.3H1290.7ZM1290.7 418.6H1327.7V420.2H1290.7ZM1326.3 407.3H1328.1V420.6H1326.3ZM1181.1 491.2H1183.3V568.2H1181.1ZM1159.5 491.2H1183.3V492.5H1159.5ZM1078.5 491.2H1117.9V492.5H1078.5ZM1137.5 491.2H1141V568.2H1137.5ZM1078.5 491.2H1080.5V568.2H1078.5ZM1155.5 566.5H1183.3V568.2H1155.5ZM1078.5 566.5H1107.5V568.2H1078.5ZM1051.3 510.6H1075.9V512.2H1051.3ZM1181.1 407.7H1183.3V463.1H1181.1ZM1118.3 407.7H1119.9V429.8H1118.3ZM1118.3 446.9H1119.9V469.5H1118.3ZM1117.9 461.9H1164.4V463.5H1117.9ZM1149.5 429.8H1151.1V460.9H1149.5ZM1246.3 407.7H1283.3V409.3H1246.3ZM1246.3 418.6H1283.3V420.2H1246.3ZM1245.9 407.3H1247.7V420.6H1245.9ZM922.7 491.2H924.9V568.2H922.7ZM922.7 491.2H946.5V492.5H922.7ZM988.1 491.2H1027.5V492.5H988.1ZM965 491.2H968.5V568.2H965ZM1025.5 491.2H1027.5V568.2H1025.5ZM922.7 566.5H950.5V568.2H922.7ZM998.5 566.5H1027.5V568.2H998.5ZM1030.1 510.6H1054.7V512.2H1030.1ZM922.7 407.7H924.9V463.1H922.7ZM986.1 407.7H987.7V429.8H986.1ZM986.1 446.9H987.7V469.5H986.1ZM941.6 461.9H988.1V463.5H941.6ZM954.9 429.8H956.5V460.9H954.9ZM822.7 407.7H859.7V409.3H822.7ZM822.7 418.6H859.7V420.2H822.7ZM858.3 407.3H860.1V420.6H858.3ZM1624.3 491.2H1626.5V568.2H1624.3ZM1624.3 491.2H1648.1V492.5H1624.3ZM1689.7 491.2H1729.1V492.5H1689.7ZM1666.6 491.2H1670.1V568.2H1666.6ZM1727.1 491.2H1729.1V568.2H1727.1ZM1624.3 566.5H1652.1V568.2H1624.3ZM1700.1 566.5H1729.1V568.2H1700.1ZM1731.7 510.6H1756.3V512.2H1731.7ZM1624.3 407.7H1626.5V463.1H1624.3ZM1687.7 407.7H1689.3V429.8H1687.7ZM1687.7 446.9H1689.3V469.5H1687.7ZM1643.2 461.9H1689.7V463.5H1643.2ZM1656.5 429.8H1658.1V460.9H1656.5ZM687.7 491.2H689.9V568.2H687.7ZM687.7 491.2H711.5V492.5H687.7ZM753.1 491.2H792.5V492.5H753.1ZM730 491.2H733.5V568.2H730ZM790.5 491.2H792.5V568.2H790.5ZM687.7 566.5H715.5V568.2H687.7ZM763.5 566.5H792.5V568.2H763.5ZM795.1 510.6H819.7V512.2H795.1ZM687.7 407.7H689.9V463.1H687.7ZM751.1 407.7H752.7V442.6H751.1ZM751.1 462.3H752.7V469.5H751.1ZM706.6 461.9H753.1V463.5H706.6ZM719.9 429.8H721.5V460.9H719.9ZM1286.5 407.7H1287.7V545.2H1286.5ZM1520.7 407.7H1522.3V546.5H1520.7ZM1325.3 468.7H1327V545.4H1325.3ZM1247 468.7H1248.7V545.4H1247ZM1558.9 468.7H1560.6V545.4H1558.9ZM1052 407.7H1053.5V510.5H1052ZM1502.1 510.5H1518.1V511.7H1502.1ZM817.1 407.7H818.8V535.5H817.1ZM857.3 468.7H859V535.9H857.3ZM583.3 446.1H663.5V447.7H583.3ZM583.3 446.1H584.7V568.2H583.3ZM623 566.5H684.7V568.2H623ZM621.8 496.9H623.9V568.2H621.8ZM793.1 511.4H813.9V512.2H793.1Z" fill="#bdbdbd"/>
<rect x="859" y="355.4" width="20.7" height="3.3" fill="#c8c8c8"/>
<rect x="897.5" y="355.4" width="20.9" height="3.3" fill="#c8c8c8"/>
<rect x="1092.7" y="355.4" width="20.7" height="3.3" fill="#c8c8c8"/>
<rect x="1054" y="355.4" width="20.9" height="3.3" fill="#c8c8c8"/>
<rect x="1393.6" y="355.4" width="20.7" height="3.3" fill="#c8c8c8"/>
<rect x="1432.1" y="355.4" width="20.9" height="3.3" fill="#c8c8c8"/>
<rect x="1628" y="388.2" width="59.2" height="3" fill="#c8c8c8"/>
<rect x="1628" y="426.6" width="59.2" height="3.4" fill="#c8c8c8"/>
<rect x="1394.4" y="427.4" width="20.6" height="3.1" fill="#c8c8c8"/>
<rect x="1431.5" y="427.4" width="21.1" height="3.1" fill="#c8c8c8"/>
<rect x="1159" y="427.4" width="20.6" height="3.1" fill="#c8c8c8"/>
<rect x="1121.4" y="427.4" width="21.1" height="3.1" fill="#c8c8c8"/>
<rect x="926.4" y="427.4" width="20.6" height="3.1" fill="#c8c8c8"/>
<rect x="963.5" y="427.4" width="21.1" height="3.1" fill="#c8c8c8"/>
<rect x="1628" y="427.4" width="20.6" height="3.1" fill="#c8c8c8"/>
<rect x="1665.1" y="427.4" width="21.1" height="3.1" fill="#c8c8c8"/>
<rect x="691.4" y="427.4" width="20.6" height="3.1" fill="#c8c8c8"/>
<rect x="728.5" y="427.4" width="21.1" height="3.1" fill="#c8c8c8"/>
<rect x="561.75" y="269.25" width="14.5" height="13.3" fill="none" stroke="#b4b4b4" stroke-width="1.5"/>
<rect x="563.5" y="271" width="11" height="9.8" fill="none" stroke="#686868" stroke-width="2"/>
<path d="M564.5 272L573.5 279.8M573.5 272L564.5 279.8" stroke="#808080" stroke-width="1.2"/>
<rect x="880.45" y="357.45" width="16.3" height="16.8" fill="none" stroke="#b4b4b4" stroke-width="1.5"/>
<rect x="882.2" y="359.2" width="12.8" height="13.3" fill="none" stroke="#686868" stroke-width="2"/>
<path d="M883.2 360.2L894 371.5M894 360.2L883.2 371.5" stroke="#808080" stroke-width="1.2"/>
<rect x="1075.65" y="357.45" width="16.3" height="16.8" fill="none" stroke="#b4b4b4" stroke-width="1.5"/>
<rect x="1077.4" y="359.2" width="12.8" height="13.3" fill="none" stroke="#686868" stroke-width="2"/>
<path d="M1078.4 360.2L1089.2 371.5M1089.2 360.2L1078.4 371.5" stroke="#808080" stroke-width="1.2"/>
<rect x="1415.05" y="357.45" width="16.3" height="16.8" fill="none" stroke="#b4b4b4" stroke-width="1.5"/>
<rect x="1416.8" y="359.2" width="12.8" height="13.3" fill="none" stroke="#686868" stroke-width="2"/>
<path d="M1417.8 360.2L1428.6 371.5M1428.6 360.2L1417.8 371.5" stroke="#808080" stroke-width="1.2"/>
<rect x="1223.35" y="315.25" width="11.9" height="21.4" fill="none" stroke="#b4b4b4" stroke-width="1.5"/>
<rect x="1225.1" y="317" width="8.4" height="17.9" fill="none" stroke="#686868" stroke-width="2"/>
<path d="M1226.1 318L1232.5 333.9M1232.5 318L1226.1 333.9" stroke="#808080" stroke-width="1.2"/>
<rect x="1237.75" y="315.25" width="15.7" height="21.4" fill="none" stroke="#b4b4b4" stroke-width="1.5"/>
<rect x="1239.5" y="317" width="12.2" height="17.9" fill="none" stroke="#686868" stroke-width="2"/>
<path d="M1240.5 318L1250.7 333.9M1250.7 318L1240.5 333.9" stroke="#808080" stroke-width="1.2"/>
<rect x="1648.95" y="391.15" width="16" height="16.1" fill="none" stroke="#b4b4b4" stroke-width="1.5"/>
<rect x="1650.7" y="392.9" width="12.5" height="12.6" fill="none" stroke="#686868" stroke-width="2"/>
<path d="M1651.7 393.9L1662.2 404.5M1662.2 393.9L1651.7 404.5" stroke="#808080" stroke-width="1.2"/>
<rect x="1648.95" y="410.25" width="16" height="17.4" fill="none" stroke="#b4b4b4" stroke-width="1.5"/>
<rect x="1650.7" y="412" width="12.5" height="13.9" fill="none" stroke="#686868" stroke-width="2"/>
<path d="M1651.7 413L1662.2 424.9M1662.2 413L1651.7 424.9" stroke="#808080" stroke-width="1.2"/>
<rect x="1416.15" y="411.25" width="14.6" height="16.7" fill="none" stroke="#b4b4b4" stroke-width="1.5"/>
<rect x="1417.9" y="413" width="11.1" height="13.2" fill="none" stroke="#686868" stroke-width="2"/>
<path d="M1418.9 414L1428 425.2M1428 414L1418.9 425.2" stroke="#808080" stroke-width="1.2"/>
<rect x="1143.25" y="411.25" width="14.6" height="16.7" fill="none" stroke="#b4b4b4" stroke-width="1.5"/>
<rect x="1145" y="413" width="11.1" height="13.2" fill="none" stroke="#686868" stroke-width="2"/>
<path d="M1146 414L1155.1 425.2M1155.1 414L1146 425.2" stroke="#808080" stroke-width="1.2"/>
<rect x="948.15" y="411.25" width="14.6" height="16.7" fill="none" stroke="#b4b4b4" stroke-width="1.5"/>
<rect x="949.9" y="413" width="11.1" height="13.2" fill="none" stroke="#686868" stroke-width="2"/>
<path d="M950.9 414L960 425.2M960 414L950.9 425.2" stroke="#808080" stroke-width="1.2"/>
<rect x="1649.75" y="411.25" width="14.6" height="16.7" fill="none" stroke="#b4b4b4" stroke-width="1.5"/>
<rect x="1651.5" y="413" width="11.1" height="13.2" fill="none" stroke="#686868" stroke-width="2"/>
<path d="M1652.5 414L1661.6 425.2M1661.6 414L1652.5 425.2" stroke="#808080" stroke-width="1.2"/>
<rect x="713.15" y="411.25" width="14.6" height="16.7" fill="none" stroke="#b4b4b4" stroke-width="1.5"/>
<rect x="714.9" y="413" width="11.1" height="13.2" fill="none" stroke="#686868" stroke-width="2"/>
<path d="M715.9 414L725 425.2M725 414L715.9 425.2" stroke="#808080" stroke-width="1.2"/>
<path d="M755.3 369.2L788.3 373.8M788.3 369.2L755.3 373.8" stroke="#747474" stroke-width="1.1"/>
<path d="M1184.1 369.2L1217.1 373.8M1217.1 369.2L1184.1 373.8" stroke="#747474" stroke-width="1.1"/>
<path d="M1289.9 369.2L1322.9 373.8M1322.9 369.2L1289.9 373.8" stroke="#747474" stroke-width="1.1"/>
<path d="M975.5 364.8L996.9 373.6M996.9 364.8L975.5 373.6" stroke="#747474" stroke-width="1.1"/>
<path d="M1290.2 411.6L1324.2 416.3M1324.2 411.6L1290.2 416.3" stroke="#747474" stroke-width="1.1"/>
<path d="M1249.8 411.6L1283.8 416.3M1283.8 411.6L1249.8 416.3" stroke="#747474" stroke-width="1.1"/>
<path d="M822.2 411.6L856.2 416.3M856.2 411.6L822.2 416.3" stroke="#747474" stroke-width="1.1"/>
<rect x="737.5" y="184" width="11.2" height="12.45" rx="1.5" fill="#bdbdbd"/>
<rect x="743.71" y="185.2" width="4.51" height="9.95" fill="#111"/>
<rect x="745.3" y="189.47" width="1.6" height="1.6" fill="#ddd"/>
<rect x="736.5" y="197.75" width="13.2" height="8.85" fill="#7c7c7c" stroke="#8a8a8a" stroke-width="0.8"/>
<rect x="738.6" y="199.65" width="9" height="5.05" fill="#4a4a4a" stroke="#a0a0a0" stroke-width="0.6"/>
<circle cx="740" cy="202.17" r="0.7" fill="#111"/><circle cx="746.2" cy="202.17" r="0.7" fill="#111"/>
<rect x="737.5" y="207.4" width="11.2" height="20.6" fill="none" stroke="#b5b5b5" stroke-width="1"/>
<rect x="739.2" y="208.9" width="7.8" height="8.64" rx="1.5" fill="#000" stroke="#c0c0c0" stroke-width="1.1"/>
<rect x="738.6" y="218.78" width="9" height="8.64" fill="#bdbdbd"/>
<circle cx="743.1" cy="212.3" r="1" fill="#ccc"/>
<rect x="755.3" y="267" width="11.2" height="12.29" rx="1.5" fill="#bdbdbd"/>
<rect x="755.78" y="268.2" width="4.51" height="9.79" fill="#111"/>
<rect x="757.36" y="272.4" width="1.6" height="1.6" fill="#ddd"/>
<rect x="754.3" y="280.6" width="13.2" height="8.74" fill="#7c7c7c" stroke="#8a8a8a" stroke-width="0.8"/>
<rect x="756.4" y="282.5" width="9" height="4.94" fill="#4a4a4a" stroke="#a0a0a0" stroke-width="0.6"/>
<circle cx="757.8" cy="284.97" r="0.7" fill="#111"/><circle cx="764" cy="284.97" r="0.7" fill="#111"/>
<rect x="755.3" y="290.14" width="11.2" height="20.36" fill="none" stroke="#b5b5b5" stroke-width="1"/>
<rect x="757" y="291.64" width="7.8" height="8.54" rx="1.5" fill="#000" stroke="#c0c0c0" stroke-width="1.1"/>
<rect x="756.4" y="301.39" width="9" height="8.54" fill="#bdbdbd"/>
<circle cx="760.9" cy="294.98" r="1" fill="#ccc"/>
<rect x="1205.9" y="267" width="11.2" height="12.29" rx="1.5" fill="#bdbdbd"/>
<rect x="1212.11" y="268.2" width="4.51" height="9.79" fill="#111"/>
<rect x="1213.7" y="272.4" width="1.6" height="1.6" fill="#ddd"/>
<rect x="1204.9" y="280.6" width="13.2" height="8.74" fill="#7c7c7c" stroke="#8a8a8a" stroke-width="0.8"/>
<rect x="1207" y="282.5" width="9" height="4.94" fill="#4a4a4a" stroke="#a0a0a0" stroke-width="0.6"/>
<circle cx="1208.4" cy="284.97" r="0.7" fill="#111"/><circle cx="1214.6" cy="284.97" r="0.7" fill="#111"/>
<rect x="1205.9" y="290.14" width="11.2" height="20.36" fill="none" stroke="#b5b5b5" stroke-width="1"/>
<rect x="1207.6" y="291.64" width="7.8" height="8.54" rx="1.5" fill="#000" stroke="#c0c0c0" stroke-width="1.1"/>
<rect x="1207" y="301.39" width="9" height="8.54" fill="#bdbdbd"/>
<circle cx="1211.5" cy="294.98" r="1" fill="#ccc"/>
<rect x="1289.9" y="267" width="11.2" height="12.29" rx="1.5" fill="#bdbdbd"/>
<rect x="1290.38" y="268.2" width="4.51" height="9.79" fill="#111"/>
<rect x="1291.96" y="272.4" width="1.6" height="1.6" fill="#ddd"/>
<rect x="1288.9" y="280.6" width="13.2" height="8.74" fill="#7c7c7c" stroke="#8a8a8a" stroke-width="0.8"/>
<rect x="1291" y="282.5" width="9" height="4.94" fill="#4a4a4a" stroke="#a0a0a0" stroke-width="0.6"/>
<circle cx="1292.4" cy="284.97" r="0.7" fill="#111"/><circle cx="1298.6" cy="284.97" r="0.7" fill="#111"/>
<rect x="1289.9" y="290.14" width="11.2" height="20.36" fill="none" stroke="#b5b5b5" stroke-width="1"/>
<rect x="1291.6" y="291.64" width="7.8" height="8.54" rx="1.5" fill="#000" stroke="#c0c0c0" stroke-width="1.1"/>
<rect x="1291" y="301.39" width="9" height="8.54" fill="#bdbdbd"/>
<circle cx="1295.5" cy="294.98" r="1" fill="#ccc"/>
<rect x="1524.3" y="267" width="12.5" height="12.29" rx="1.5" fill="#bdbdbd"/>
<rect x="1524.88" y="268.2" width="5" height="9.79" fill="#111"/>
<rect x="1526.63" y="272.4" width="1.6" height="1.6" fill="#ddd"/>
<rect x="1523.3" y="280.6" width="14.5" height="8.74" fill="#7c7c7c" stroke="#8a8a8a" stroke-width="0.8"/>
<rect x="1525.4" y="282.5" width="10.3" height="4.94" fill="#4a4a4a" stroke="#a0a0a0" stroke-width="0.6"/>
<circle cx="1526.8" cy="284.97" r="0.7" fill="#111"/><circle cx="1534.3" cy="284.97" r="0.7" fill="#111"/>
<rect x="1524.3" y="290.14" width="12.5" height="20.36" fill="none" stroke="#b5b5b5" stroke-width="1"/>
<rect x="1526" y="291.64" width="9.1" height="8.54" rx="1.5" fill="#000" stroke="#c0c0c0" stroke-width="1.1"/>
<rect x="1525.4" y="301.39" width="10.3" height="8.54" fill="#bdbdbd"/>
<circle cx="1530.55" cy="294.98" r="1" fill="#ccc"/>
<rect x="1289.7" y="483.1" width="11.8" height="21.13" fill="none" stroke="#b5b5b5" stroke-width="1"/>
<rect x="1290.8" y="483.71" width="9.6" height="8.85" fill="#bdbdbd"/>
<rect x="1291.4" y="494.11" width="8.4" height="8.85" rx="1.5" fill="#000" stroke="#c0c0c0" stroke-width="1.1"/>
<circle cx="1295.6" cy="498.53" r="1" fill="#ccc"/>
<rect x="1288.7" y="505.03" width="13.8" height="9.08" fill="#7c7c7c" stroke="#8a8a8a" stroke-width="0.8"/>
<rect x="1290.8" y="506.93" width="9.6" height="5.28" fill="#4a4a4a" stroke="#a0a0a0" stroke-width="0.6"/>
<circle cx="1292.2" cy="509.57" r="0.7" fill="#111"/><circle cx="1299" cy="509.57" r="0.7" fill="#111"/>
<rect x="1289.7" y="514.91" width="11.8" height="12.79" rx="1.5" fill="#bdbdbd"/>
<rect x="1290.22" y="516.11" width="4.74" height="10.29" fill="#111"/>
<rect x="1291.89" y="520.55" width="1.6" height="1.6" fill="#ddd"/>
<rect x="1272.5" y="483.1" width="11.8" height="21.13" fill="none" stroke="#b5b5b5" stroke-width="1"/>
<rect x="1273.6" y="483.71" width="9.6" height="8.85" fill="#bdbdbd"/>
<rect x="1274.2" y="494.11" width="8.4" height="8.85" rx="1.5" fill="#000" stroke="#c0c0c0" stroke-width="1.1"/>
<circle cx="1278.4" cy="498.53" r="1" fill="#ccc"/>
<rect x="1271.5" y="505.03" width="13.8" height="9.08" fill="#7c7c7c" stroke="#8a8a8a" stroke-width="0.8"/>
<rect x="1273.6" y="506.93" width="9.6" height="5.28" fill="#4a4a4a" stroke="#a0a0a0" stroke-width="0.6"/>
<circle cx="1275" cy="509.57" r="0.7" fill="#111"/><circle cx="1281.8" cy="509.57" r="0.7" fill="#111"/>
<rect x="1272.5" y="514.91" width="11.8" height="12.79" rx="1.5" fill="#bdbdbd"/>
<rect x="1279.04" y="516.11" width="4.74" height="10.29" fill="#111"/>
<rect x="1280.7" y="520.55" width="1.6" height="1.6" fill="#ddd"/>
<rect x="1523.3" y="483.1" width="11.8" height="21.13" fill="none" stroke="#b5b5b5" stroke-width="1"/>
<rect x="1524.4" y="483.71" width="9.6" height="8.85" fill="#bdbdbd"/>
<rect x="1525" y="494.11" width="8.4" height="8.85" rx="1.5" fill="#000" stroke="#c0c0c0" stroke-width="1.1"/>
<circle cx="1529.2" cy="498.53" r="1" fill="#ccc"/>
<rect x="1522.3" y="505.03" width="13.8" height="9.08" fill="#7c7c7c" stroke="#8a8a8a" stroke-width="0.8"/>
<rect x="1524.4" y="506.93" width="9.6" height="5.28" fill="#4a4a4a" stroke="#a0a0a0" stroke-width="0.6"/>
<circle cx="1525.8" cy="509.57" r="0.7" fill="#111"/><circle cx="1532.6" cy="509.57" r="0.7" fill="#111"/>
<rect x="1523.3" y="514.91" width="11.8" height="12.79" rx="1.5" fill="#bdbdbd"/>
<rect x="1523.82" y="516.11" width="4.74" height="10.29" fill="#111"/>
<rect x="1525.49" y="520.55" width="1.6" height="1.6" fill="#ddd"/>
<rect x="821.3" y="474.1" width="13.1" height="20.55" fill="none" stroke="#b5b5b5" stroke-width="1"/>
<rect x="822.4" y="474.68" width="10.9" height="8.62" fill="#bdbdbd"/>
<rect x="823" y="484.81" width="9.7" height="8.62" rx="1.5" fill="#000" stroke="#c0c0c0" stroke-width="1.1"/>
<circle cx="827.85" cy="489.12" r="1" fill="#ccc"/>
<rect x="820.3" y="495.45" width="15.1" height="8.83" fill="#7c7c7c" stroke="#8a8a8a" stroke-width="0.8"/>
<rect x="822.4" y="497.35" width="10.9" height="5.03" fill="#4a4a4a" stroke="#a0a0a0" stroke-width="0.6"/>
<circle cx="823.8" cy="499.87" r="0.7" fill="#111"/><circle cx="831.9" cy="499.87" r="0.7" fill="#111"/>
<rect x="821.3" y="505.08" width="13.1" height="12.42" rx="1.5" fill="#bdbdbd"/>
<rect x="821.93" y="506.28" width="5.22" height="9.92" fill="#111"/>
<rect x="823.76" y="510.54" width="1.6" height="1.6" fill="#ddd"/>
<rect x="586.9" y="505.5" width="12.3" height="20.6" fill="none" stroke="#b5b5b5" stroke-width="1"/>
<rect x="588" y="506.08" width="10.1" height="8.64" fill="#bdbdbd"/>
<rect x="588.6" y="516.23" width="8.9" height="8.64" rx="1.5" fill="#000" stroke="#c0c0c0" stroke-width="1.1"/>
<circle cx="593.05" cy="520.55" r="1" fill="#ccc"/>
<rect x="585.9" y="526.9" width="14.3" height="8.85" fill="#7c7c7c" stroke="#8a8a8a" stroke-width="0.8"/>
<rect x="588" y="528.8" width="10.1" height="5.05" fill="#4a4a4a" stroke="#a0a0a0" stroke-width="0.6"/>
<circle cx="589.4" cy="531.33" r="0.7" fill="#111"/><circle cx="596.7" cy="531.33" r="0.7" fill="#111"/>
<rect x="586.9" y="536.55" width="12.3" height="12.45" rx="1.5" fill="#bdbdbd"/>
<rect x="587.46" y="537.75" width="4.92" height="9.95" fill="#111"/>
<rect x="589.19" y="542.03" width="1.6" height="1.6" fill="#ddd"/>
<g transform="matrix(0 -1.07 1.04 0 582.9 274)"><rect x="0.3" y="0.3" width="4.4" height="9.9" rx="1.2" fill="#c2c2c2"/><rect x="1.5" y="1.6" width="2" height="7.3" rx="0.8" fill="#000"/><ellipse cx="10.2" cy="5.25" rx="5.6" ry="4.9" fill="#c2c2c2"/><circle cx="11" cy="2.5" r="0.75" fill="#000"/><circle cx="8.6" cy="6.2" r="0.75" fill="#000"/><ellipse cx="13.8" cy="5" rx="0.6" ry="1.1" fill="#000"/><rect x="10" y="7.2" width="1.6" height="0.9" fill="#000"/></g>
<g transform="matrix(0 -1.05 1.04 0 595.7 274)"><rect x="0.4" y="0.4" width="10.2" height="12.7" rx="3.2" fill="#c2c2c2"/><path d="M3.2 3 C7.5 2.2 9 4.5 9 6.75 C9 9 7.5 11.3 3.2 10.5 C5 9.3 5.6 8 5.6 6.75 C5.6 5.5 5 4.2 3.2 3Z" fill="#000"/><rect x="1.6" y="4.2" width="1.2" height="1" fill="#000"/><rect x="1.6" y="8.4" width="1.2" height="1" fill="#000"/></g>
<g transform="matrix(0 1.03 1.04 0 582.9 278.2)"><rect x="0.3" y="0.3" width="4.4" height="9.9" rx="1.2" fill="#c2c2c2"/><rect x="1.5" y="1.6" width="2" height="7.3" rx="0.8" fill="#000"/><ellipse cx="10.2" cy="5.25" rx="5.6" ry="4.9" fill="#c2c2c2"/><circle cx="11" cy="2.5" r="0.75" fill="#000"/><circle cx="8.6" cy="6.2" r="0.75" fill="#000"/><ellipse cx="13.8" cy="5" rx="0.6" ry="1.1" fill="#000"/><rect x="10" y="7.2" width="1.6" height="0.9" fill="#000"/></g>
<g transform="matrix(0 1.16 1.04 0 595.7 278.2)"><rect x="0.4" y="0.4" width="10.2" height="12.7" rx="3.2" fill="#c2c2c2"/><path d="M3.2 3 C7.5 2.2 9 4.5 9 6.75 C9 9 7.5 11.3 3.2 10.5 C5 9.3 5.6 8 5.6 6.75 C5.6 5.5 5 4.2 3.2 3Z" fill="#000"/><rect x="1.6" y="4.2" width="1.2" height="1" fill="#000"/><rect x="1.6" y="8.4" width="1.2" height="1" fill="#000"/></g>
<g transform="matrix(-1.01 0 0 1 886.7 327)"><rect x="0.4" y="0.4" width="10.2" height="12.7" rx="3.2" fill="#c2c2c2"/><path d="M3.2 3 C7.5 2.2 9 4.5 9 6.75 C9 9 7.5 11.3 3.2 10.5 C5 9.3 5.6 8 5.6 6.75 C5.6 5.5 5 4.2 3.2 3Z" fill="#000"/><rect x="1.6" y="4.2" width="1.2" height="1" fill="#000"/><rect x="1.6" y="8.4" width="1.2" height="1" fill="#000"/></g>
<g transform="matrix(1.01 0 0 0.97 891.8 327)"><rect x="0.3" y="0.3" width="4.4" height="9.9" rx="1.2" fill="#c2c2c2"/><rect x="1.5" y="1.6" width="2" height="7.3" rx="0.8" fill="#000"/><ellipse cx="10.2" cy="5.25" rx="5.6" ry="4.9" fill="#c2c2c2"/><circle cx="11" cy="2.5" r="0.75" fill="#000"/><circle cx="8.6" cy="6.2" r="0.75" fill="#000"/><ellipse cx="13.8" cy="5" rx="0.6" ry="1.1" fill="#000"/><rect x="10" y="7.2" width="1.6" height="0.9" fill="#000"/></g>
<g transform="matrix(-1.02 0 0 1.01 886.7 343.2)"><rect x="0.3" y="0.3" width="4.4" height="9.9" rx="1.2" fill="#c2c2c2"/><rect x="1.5" y="1.6" width="2" height="7.3" rx="0.8" fill="#000"/><ellipse cx="10.2" cy="5.25" rx="5.6" ry="4.9" fill="#c2c2c2"/><circle cx="11" cy="2.5" r="0.75" fill="#000"/><circle cx="8.6" cy="6.2" r="0.75" fill="#000"/><ellipse cx="13.8" cy="5" rx="0.6" ry="1.1" fill="#000"/><rect x="10" y="7.2" width="1.6" height="0.9" fill="#000"/></g>
<g transform="matrix(1.05 0 0 1.02 891.4 340)"><rect x="0.4" y="0.4" width="10.2" height="12.7" rx="3.2" fill="#c2c2c2"/><path d="M3.2 3 C7.5 2.2 9 4.5 9 6.75 C9 9 7.5 11.3 3.2 10.5 C5 9.3 5.6 8 5.6 6.75 C5.6 5.5 5 4.2 3.2 3Z" fill="#000"/><rect x="1.6" y="4.2" width="1.2" height="1" fill="#000"/><rect x="1.6" y="8.4" width="1.2" height="1" fill="#000"/></g>
<g transform="matrix(1.01 0 0 1 1085.7 327)"><rect x="0.4" y="0.4" width="10.2" height="12.7" rx="3.2" fill="#c2c2c2"/><path d="M3.2 3 C7.5 2.2 9 4.5 9 6.75 C9 9 7.5 11.3 3.2 10.5 C5 9.3 5.6 8 5.6 6.75 C5.6 5.5 5 4.2 3.2 3Z" fill="#000"/><rect x="1.6" y="4.2" width="1.2" height="1" fill="#000"/><rect x="1.6" y="8.4" width="1.2" height="1" fill="#000"/></g>
<g transform="matrix(-1.01 0 0 0.97 1080.6 327)"><rect x="0.3" y="0.3" width="4.4" height="9.9" rx="1.2" fill="#c2c2c2"/><rect x="1.5" y="1.6" width="2" height="7.3" rx="0.8" fill="#000"/><ellipse cx="10.2" cy="5.25" rx="5.6" ry="4.9" fill="#c2c2c2"/><circle cx="11" cy="2.5" r="0.75" fill="#000"/><circle cx="8.6" cy="6.2" r="0.75" fill="#000"/><ellipse cx="13.8" cy="5" rx="0.6" ry="1.1" fill="#000"/><rect x="10" y="7.2" width="1.6" height="0.9" fill="#000"/></g>
<g transform="matrix(1.02 0 0 1.01 1085.7 343.2)"><rect x="0.3" y="0.3" width="4.4" height="9.9" rx="1.2" fill="#c2c2c2"/><rect x="1.5" y="1.6" width="2" height="7.3" rx="0.8" fill="#000"/><ellipse cx="10.2" cy="5.25" rx="5.6" ry="4.9" fill="#c2c2c2"/><circle cx="11" cy="2.5" r="0.75" fill="#000"/><circle cx="8.6" cy="6.2" r="0.75" fill="#000"/><ellipse cx="13.8" cy="5" rx="0.6" ry="1.1" fill="#000"/><rect x="10" y="7.2" width="1.6" height="0.9" fill="#000"/></g>
<g transform="matrix(-1.05 0 0 1.02 1081 340)"><rect x="0.4" y="0.4" width="10.2" height="12.7" rx="3.2" fill="#c2c2c2"/><path d="M3.2 3 C7.5 2.2 9 4.5 9 6.75 C9 9 7.5 11.3 3.2 10.5 C5 9.3 5.6 8 5.6 6.75 C5.6 5.5 5 4.2 3.2 3Z" fill="#000"/><rect x="1.6" y="4.2" width="1.2" height="1" fill="#000"/><rect x="1.6" y="8.4" width="1.2" height="1" fill="#000"/></g>
<g transform="matrix(-1.01 0 0 1 1421.3 327)"><rect x="0.4" y="0.4" width="10.2" height="12.7" rx="3.2" fill="#c2c2c2"/><path d="M3.2 3 C7.5 2.2 9 4.5 9 6.75 C9 9 7.5 11.3 3.2 10.5 C5 9.3 5.6 8 5.6 6.75 C5.6 5.5 5 4.2 3.2 3Z" fill="#000"/><rect x="1.6" y="4.2" width="1.2" height="1" fill="#000"/><rect x="1.6" y="8.4" width="1.2" height="1" fill="#000"/></g>
<g transform="matrix(1.01 0 0 0.97 1426.4 327)"><rect x="0.3" y="0.3" width="4.4" height="9.9" rx="1.2" fill="#c2c2c2"/><rect x="1.5" y="1.6" width="2" height="7.3" rx="0.8" fill="#000"/><ellipse cx="10.2" cy="5.25" rx="5.6" ry="4.9" fill="#c2c2c2"/><circle cx="11" cy="2.5" r="0.75" fill="#000"/><circle cx="8.6" cy="6.2" r="0.75" fill="#000"/><ellipse cx="13.8" cy="5" rx="0.6" ry="1.1" fill="#000"/><rect x="10" y="7.2" width="1.6" height="0.9" fill="#000"/></g>
<g transform="matrix(-1.02 0 0 1.01 1421.3 343.2)"><rect x="0.3" y="0.3" width="4.4" height="9.9" rx="1.2" fill="#c2c2c2"/><rect x="1.5" y="1.6" width="2" height="7.3" rx="0.8" fill="#000"/><ellipse cx="10.2" cy="5.25" rx="5.6" ry="4.9" fill="#c2c2c2"/><circle cx="11" cy="2.5" r="0.75" fill="#000"/><circle cx="8.6" cy="6.2" r="0.75" fill="#000"/><ellipse cx="13.8" cy="5" rx="0.6" ry="1.1" fill="#000"/><rect x="10" y="7.2" width="1.6" height="0.9" fill="#000"/></g>
<g transform="matrix(1.05 0 0 1.02 1426 340)"><rect x="0.4" y="0.4" width="10.2" height="12.7" rx="3.2" fill="#c2c2c2"/><path d="M3.2 3 C7.5 2.2 9 4.5 9 6.75 C9 9 7.5 11.3 3.2 10.5 C5 9.3 5.6 8 5.6 6.75 C5.6 5.5 5 4.2 3.2 3Z" fill="#000"/><rect x="1.6" y="4.2" width="1.2" height="1" fill="#000"/><rect x="1.6" y="8.4" width="1.2" height="1" fill="#000"/></g>
<g transform="matrix(-1.09 0 0 0.99 1655.2 358.9)"><rect x="0.4" y="0.4" width="10.2" height="12.7" rx="3.2" fill="#c2c2c2"/><path d="M3.2 3 C7.5 2.2 9 4.5 9 6.75 C9 9 7.5 11.3 3.2 10.5 C5 9.3 5.6 8 5.6 6.75 C5.6 5.5 5 4.2 3.2 3Z" fill="#000"/><rect x="1.6" y="4.2" width="1.2" height="1" fill="#000"/><rect x="1.6" y="8.4" width="1.2" height="1" fill="#000"/></g>
<g transform="matrix(1.08 0 0 0.94 1659.2 359.7)"><rect x="0.3" y="0.3" width="4.4" height="9.9" rx="1.2" fill="#c2c2c2"/><rect x="1.5" y="1.6" width="2" height="7.3" rx="0.8" fill="#000"/><ellipse cx="10.2" cy="5.25" rx="5.6" ry="4.9" fill="#c2c2c2"/><circle cx="11" cy="2.5" r="0.75" fill="#000"/><circle cx="8.6" cy="6.2" r="0.75" fill="#000"/><ellipse cx="13.8" cy="5" rx="0.6" ry="1.1" fill="#000"/><rect x="10" y="7.2" width="1.6" height="0.9" fill="#000"/></g>
<g transform="matrix(-1.03 0 0 0.94 1655.2 375)"><rect x="0.3" y="0.3" width="4.4" height="9.9" rx="1.2" fill="#c2c2c2"/><rect x="1.5" y="1.6" width="2" height="7.3" rx="0.8" fill="#000"/><ellipse cx="10.2" cy="5.25" rx="5.6" ry="4.9" fill="#c2c2c2"/><circle cx="11" cy="2.5" r="0.75" fill="#000"/><circle cx="8.6" cy="6.2" r="0.75" fill="#000"/><ellipse cx="13.8" cy="5" rx="0.6" ry="1.1" fill="#000"/><rect x="10" y="7.2" width="1.6" height="0.9" fill="#000"/></g>
<g transform="matrix(1.16 0 0 1 1659.2 372.3)"><rect x="0.4" y="0.4" width="10.2" height="12.7" rx="3.2" fill="#c2c2c2"/><path d="M3.2 3 C7.5 2.2 9 4.5 9 6.75 C9 9 7.5 11.3 3.2 10.5 C5 9.3 5.6 8 5.6 6.75 C5.6 5.5 5 4.2 3.2 3Z" fill="#000"/><rect x="1.6" y="4.2" width="1.2" height="1" fill="#000"/><rect x="1.6" y="8.4" width="1.2" height="1" fill="#000"/></g>
<g transform="matrix(-1.03 0 0 0.93 1655.2 432.5)"><rect x="0.3" y="0.3" width="4.4" height="9.9" rx="1.2" fill="#c2c2c2"/><rect x="1.5" y="1.6" width="2" height="7.3" rx="0.8" fill="#000"/><ellipse cx="10.2" cy="5.25" rx="5.6" ry="4.9" fill="#c2c2c2"/><circle cx="11" cy="2.5" r="0.75" fill="#000"/><circle cx="8.6" cy="6.2" r="0.75" fill="#000"/><ellipse cx="13.8" cy="5" rx="0.6" ry="1.1" fill="#000"/><rect x="10" y="7.2" width="1.6" height="0.9" fill="#000"/></g>
<g transform="matrix(1.16 0 0 1 1659.2 432.5)"><rect x="0.4" y="0.4" width="10.2" height="12.7" rx="3.2" fill="#c2c2c2"/><path d="M3.2 3 C7.5 2.2 9 4.5 9 6.75 C9 9 7.5 11.3 3.2 10.5 C5 9.3 5.6 8 5.6 6.75 C5.6 5.5 5 4.2 3.2 3Z" fill="#000"/><rect x="1.6" y="4.2" width="1.2" height="1" fill="#000"/><rect x="1.6" y="8.4" width="1.2" height="1" fill="#000"/></g>
<g transform="matrix(-1.09 0 0 1.07 1655.2 445)"><rect x="0.4" y="0.4" width="10.2" height="12.7" rx="3.2" fill="#c2c2c2"/><path d="M3.2 3 C7.5 2.2 9 4.5 9 6.75 C9 9 7.5 11.3 3.2 10.5 C5 9.3 5.6 8 5.6 6.75 C5.6 5.5 5 4.2 3.2 3Z" fill="#000"/><rect x="1.6" y="4.2" width="1.2" height="1" fill="#000"/><rect x="1.6" y="8.4" width="1.2" height="1" fill="#000"/></g>
<g transform="matrix(1.08 0 0 0.94 1659.2 448.6)"><rect x="0.3" y="0.3" width="4.4" height="9.9" rx="1.2" fill="#c2c2c2"/><rect x="1.5" y="1.6" width="2" height="7.3" rx="0.8" fill="#000"/><ellipse cx="10.2" cy="5.25" rx="5.6" ry="4.9" fill="#c2c2c2"/><circle cx="11" cy="2.5" r="0.75" fill="#000"/><circle cx="8.6" cy="6.2" r="0.75" fill="#000"/><ellipse cx="13.8" cy="5" rx="0.6" ry="1.1" fill="#000"/><rect x="10" y="7.2" width="1.6" height="0.9" fill="#000"/></g>
<g transform="matrix(-1.07 0 0 1.05 1421.2 431.9)"><rect x="0.3" y="0.3" width="4.4" height="9.9" rx="1.2" fill="#c2c2c2"/><rect x="1.5" y="1.6" width="2" height="7.3" rx="0.8" fill="#000"/><ellipse cx="10.2" cy="5.25" rx="5.6" ry="4.9" fill="#c2c2c2"/><circle cx="11" cy="2.5" r="0.75" fill="#000"/><circle cx="8.6" cy="6.2" r="0.75" fill="#000"/><ellipse cx="13.8" cy="5" rx="0.6" ry="1.1" fill="#000"/><rect x="10" y="7.2" width="1.6" height="0.9" fill="#000"/></g>
<g transform="matrix(0.99 0 0 1.03 1425.8 431.9)"><rect x="0.4" y="0.4" width="10.2" height="12.7" rx="3.2" fill="#c2c2c2"/><path d="M3.2 3 C7.5 2.2 9 4.5 9 6.75 C9 9 7.5 11.3 3.2 10.5 C5 9.3 5.6 8 5.6 6.75 C5.6 5.5 5 4.2 3.2 3Z" fill="#000"/><rect x="1.6" y="4.2" width="1.2" height="1" fill="#000"/><rect x="1.6" y="8.4" width="1.2" height="1" fill="#000"/></g>
<g transform="matrix(-1 0 0 1.04 1421.2 444.9)"><rect x="0.4" y="0.4" width="10.2" height="12.7" rx="3.2" fill="#c2c2c2"/><path d="M3.2 3 C7.5 2.2 9 4.5 9 6.75 C9 9 7.5 11.3 3.2 10.5 C5 9.3 5.6 8 5.6 6.75 C5.6 5.5 5 4.2 3.2 3Z" fill="#000"/><rect x="1.6" y="4.2" width="1.2" height="1" fill="#000"/><rect x="1.6" y="8.4" width="1.2" height="1" fill="#000"/></g>
<g transform="matrix(1.06 0 0 1.01 1425.8 448.4)"><rect x="0.3" y="0.3" width="4.4" height="9.9" rx="1.2" fill="#c2c2c2"/><rect x="1.5" y="1.6" width="2" height="7.3" rx="0.8" fill="#000"/><ellipse cx="10.2" cy="5.25" rx="5.6" ry="4.9" fill="#c2c2c2"/><circle cx="11" cy="2.5" r="0.75" fill="#000"/><circle cx="8.6" cy="6.2" r="0.75" fill="#000"/><ellipse cx="13.8" cy="5" rx="0.6" ry="1.1" fill="#000"/><rect x="10" y="7.2" width="1.6" height="0.9" fill="#000"/></g>
<g transform="matrix(1.07 0 0 1.05 1152.8 431.9)"><rect x="0.3" y="0.3" width="4.4" height="9.9" rx="1.2" fill="#c2c2c2"/><rect x="1.5" y="1.6" width="2" height="7.3" rx="0.8" fill="#000"/><ellipse cx="10.2" cy="5.25" rx="5.6" ry="4.9" fill="#c2c2c2"/><circle cx="11" cy="2.5" r="0.75" fill="#000"/><circle cx="8.6" cy="6.2" r="0.75" fill="#000"/><ellipse cx="13.8" cy="5" rx="0.6" ry="1.1" fill="#000"/><rect x="10" y="7.2" width="1.6" height="0.9" fill="#000"/></g>
<g transform="matrix(-0.99 0 0 1.03 1148.2 431.9)"><rect x="0.4" y="0.4" width="10.2" height="12.7" rx="3.2" fill="#c2c2c2"/><path d="M3.2 3 C7.5 2.2 9 4.5 9 6.75 C9 9 7.5 11.3 3.2 10.5 C5 9.3 5.6 8 5.6 6.75 C5.6 5.5 5 4.2 3.2 3Z" fill="#000"/><rect x="1.6" y="4.2" width="1.2" height="1" fill="#000"/><rect x="1.6" y="8.4" width="1.2" height="1" fill="#000"/></g>
<g transform="matrix(1 0 0 1.04 1152.8 444.9)"><rect x="0.4" y="0.4" width="10.2" height="12.7" rx="3.2" fill="#c2c2c2"/><path d="M3.2 3 C7.5 2.2 9 4.5 9 6.75 C9 9 7.5 11.3 3.2 10.5 C5 9.3 5.6 8 5.6 6.75 C5.6 5.5 5 4.2 3.2 3Z" fill="#000"/><rect x="1.6" y="4.2" width="1.2" height="1" fill="#000"/><rect x="1.6" y="8.4" width="1.2" height="1" fill="#000"/></g>
<g transform="matrix(-1.06 0 0 1.01 1148.2 448.4)"><rect x="0.3" y="0.3" width="4.4" height="9.9" rx="1.2" fill="#c2c2c2"/><rect x="1.5" y="1.6" width="2" height="7.3" rx="0.8" fill="#000"/><ellipse cx="10.2" cy="5.25" rx="5.6" ry="4.9" fill="#c2c2c2"/><circle cx="11" cy="2.5" r="0.75" fill="#000"/><circle cx="8.6" cy="6.2" r="0.75" fill="#000"/><ellipse cx="13.8" cy="5" rx="0.6" ry="1.1" fill="#000"/><rect x="10" y="7.2" width="1.6" height="0.9" fill="#000"/></g>
<g transform="matrix(-1.07 0 0 1.05 953.2 431.9)"><rect x="0.3" y="0.3" width="4.4" height="9.9" rx="1.2" fill="#c2c2c2"/><rect x="1.5" y="1.6" width="2" height="7.3" rx="0.8" fill="#000"/><ellipse cx="10.2" cy="5.25" rx="5.6" ry="4.9" fill="#c2c2c2"/><circle cx="11" cy="2.5" r="0.75" fill="#000"/><circle cx="8.6" cy="6.2" r="0.75" fill="#000"/><ellipse cx="13.8" cy="5" rx="0.6" ry="1.1" fill="#000"/><rect x="10" y="7.2" width="1.6" height="0.9" fill="#000"/></g>
<g transform="matrix(0.99 0 0 1.03 957.8 431.9)"><rect x="0.4" y="0.4" width="10.2" height="12.7" rx="3.2" fill="#c2c2c2"/><path d="M3.2 3 C7.5 2.2 9 4.5 9 6.75 C9 9 7.5 11.3 3.2 10.5 C5 9.3 5.6 8 5.6 6.75 C5.6 5.5 5 4.2 3.2 3Z" fill="#000"/><rect x="1.6" y="4.2" width="1.2" height="1" fill="#000"/><rect x="1.6" y="8.4" width="1.2" height="1" fill="#000"/></g>
<g transform="matrix(-1 0 0 1.04 953.2 444.9)"><rect x="0.4" y="0.4" width="10.2" height="12.7" rx="3.2" fill="#c2c2c2"/><path d="M3.2 3 C7.5 2.2 9 4.5 9 6.75 C9 9 7.5 11.3 3.2 10.5 C5 9.3 5.6 8 5.6 6.75 C5.6 5.5 5 4.2 3.2 3Z" fill="#000"/><rect x="1.6" y="4.2" width="1.2" height="1" fill="#000"/><rect x="1.6" y="8.4" width="1.2" height="1" fill="#000"/></g>
<g transform="matrix(1.06 0 0 1.01 957.8 448.4)"><rect x="0.3" y="0.3" width="4.4" height="9.9" rx="1.2" fill="#c2c2c2"/><rect x="1.5" y="1.6" width="2" height="7.3" rx="0.8" fill="#000"/><ellipse cx="10.2" cy="5.25" rx="5.6" ry="4.9" fill="#c2c2c2"/><circle cx="11" cy="2.5" r="0.75" fill="#000"/><circle cx="8.6" cy="6.2" r="0.75" fill="#000"/><ellipse cx="13.8" cy="5" rx="0.6" ry="1.1" fill="#000"/><rect x="10" y="7.2" width="1.6" height="0.9" fill="#000"/></g>
<g transform="matrix(-1.07 0 0 1.05 1654.8 431.9)"><rect x="0.3" y="0.3" width="4.4" height="9.9" rx="1.2" fill="#c2c2c2"/><rect x="1.5" y="1.6" width="2" height="7.3" rx="0.8" fill="#000"/><ellipse cx="10.2" cy="5.25" rx="5.6" ry="4.9" fill="#c2c2c2"/><circle cx="11" cy="2.5" r="0.75" fill="#000"/><circle cx="8.6" cy="6.2" r="0.75" fill="#000"/><ellipse cx="13.8" cy="5" rx="0.6" ry="1.1" fill="#000"/><rect x="10" y="7.2" width="1.6" height="0.9" fill="#000"/></g>
<g transform="matrix(0.99 0 0 1.03 1659.4 431.9)"><rect x="0.4" y="0.4" width="10.2" height="12.7" rx="3.2" fill="#c2c2c2"/><path d="M3.2 3 C7.5 2.2 9 4.5 9 6.75 C9 9 7.5 11.3 3.2 10.5 C5 9.3 5.6 8 5.6 6.75 C5.6 5.5 5 4.2 3.2 3Z" fill="#000"/><rect x="1.6" y="4.2" width="1.2" height="1" fill="#000"/><rect x="1.6" y="8.4" width="1.2" height="1" fill="#000"/></g>
<g transform="matrix(-1 0 0 1.04 1654.8 444.9)"><rect x="0.4" y="0.4" width="10.2" height="12.7" rx="3.2" fill="#c2c2c2"/><path d="M3.2 3 C7.5 2.2 9 4.5 9 6.75 C9 9 7.5 11.3 3.2 10.5 C5 9.3 5.6 8 5.6 6.75 C5.6 5.5 5 4.2 3.2 3Z" fill="#000"/><rect x="1.6" y="4.2" width="1.2" height="1" fill="#000"/><rect x="1.6" y="8.4" width="1.2" height="1" fill="#000"/></g>
<g transform="matrix(1.06 0 0 1.01 1659.4 448.4)"><rect x="0.3" y="0.3" width="4.4" height="9.9" rx="1.2" fill="#c2c2c2"/><rect x="1.5" y="1.6" width="2" height="7.3" rx="0.8" fill="#000"/><ellipse cx="10.2" cy="5.25" rx="5.6" ry="4.9" fill="#c2c2c2"/><circle cx="11" cy="2.5" r="0.75" fill="#000"/><circle cx="8.6" cy="6.2" r="0.75" fill="#000"/><ellipse cx="13.8" cy="5" rx="0.6" ry="1.1" fill="#000"/><rect x="10" y="7.2" width="1.6" height="0.9" fill="#000"/></g>
<g transform="matrix(-1.11 0 0 1.04 718.8 432.6)"><rect x="0.3" y="0.3" width="4.4" height="9.9" rx="1.2" fill="#c2c2c2"/><rect x="1.5" y="1.6" width="2" height="7.3" rx="0.8" fill="#000"/><ellipse cx="10.2" cy="5.25" rx="5.6" ry="4.9" fill="#c2c2c2"/><circle cx="11" cy="2.5" r="0.75" fill="#000"/><circle cx="8.6" cy="6.2" r="0.75" fill="#000"/><ellipse cx="13.8" cy="5" rx="0.6" ry="1.1" fill="#000"/><rect x="10" y="7.2" width="1.6" height="0.9" fill="#000"/></g>
<g transform="matrix(1.09 0 0 1.04 722.6 432.6)"><rect x="0.3" y="0.3" width="4.4" height="9.9" rx="1.2" fill="#c2c2c2"/><rect x="1.5" y="1.6" width="2" height="7.3" rx="0.8" fill="#000"/><ellipse cx="10.2" cy="5.25" rx="5.6" ry="4.9" fill="#c2c2c2"/><circle cx="11" cy="2.5" r="0.75" fill="#000"/><circle cx="8.6" cy="6.2" r="0.75" fill="#000"/><ellipse cx="13.8" cy="5" rx="0.6" ry="1.1" fill="#000"/><rect x="10" y="7.2" width="1.6" height="0.9" fill="#000"/></g>
<g transform="matrix(-1.1 0 0 1.04 718.8 446)"><rect x="0.4" y="0.4" width="10.2" height="12.7" rx="3.2" fill="#c2c2c2"/><path d="M3.2 3 C7.5 2.2 9 4.5 9 6.75 C9 9 7.5 11.3 3.2 10.5 C5 9.3 5.6 8 5.6 6.75 C5.6 5.5 5 4.2 3.2 3Z" fill="#000"/><rect x="1.6" y="4.2" width="1.2" height="1" fill="#000"/><rect x="1.6" y="8.4" width="1.2" height="1" fill="#000"/></g>
<g transform="matrix(1 0 0 1.04 722.6 446)"><rect x="0.4" y="0.4" width="10.2" height="12.7" rx="3.2" fill="#c2c2c2"/><path d="M3.2 3 C7.5 2.2 9 4.5 9 6.75 C9 9 7.5 11.3 3.2 10.5 C5 9.3 5.6 8 5.6 6.75 C5.6 5.5 5 4.2 3.2 3Z" fill="#000"/><rect x="1.6" y="4.2" width="1.2" height="1" fill="#000"/><rect x="1.6" y="8.4" width="1.2" height="1" fill="#000"/></g>
<rect x="709.9" y="291.0" width="32.6" height="31.00000000000002" fill="none" stroke="#bdbdbd" stroke-width="1.2"/>
<path d="M709.9 321.5 L742.5 291.9 L742.5 321.5 Z" fill="#d0d0d0"/>
<rect x="744" y="294.3" width="3" height="25.100000000000023" fill="none" stroke="#bdbdbd" stroke-width="1"/>
<rect x="709.9" y="339.7" width="32.6" height="29.800000000000033" fill="none" stroke="#bdbdbd" stroke-width="1.2"/>
<path d="M709.9 369.0 L742.5 340.59999999999997 L742.5 369.0 Z" fill="#d0d0d0"/>
<rect x="744" y="343.0" width="3" height="23.900000000000034" fill="none" stroke="#bdbdbd" stroke-width="1"/>
<g stroke="#b8b8b8" stroke-width="1" fill="none">
<path d="M1224.3 207.9 H1258.3"/>
<path d="M1224.3 232.7 H1250"/>
<path d="M1224.3 238.8 H1250"/>
<path d="M1224.3 244.9 H1250"/>
<path d="M1224.3 251.0 H1250"/>
<path d="M1224.3 257 L1241 260 L1250 262"/>
<path d="M1224.3 262.2 H1250" stroke-dasharray="2 2.5"/>
<path d="M1224.3 268 H1250" stroke-dasharray="2 2.5"/>
<path d="M1224.3 273.4 H1250" stroke-dasharray="2 2.5"/>
<path d="M1224.3 279.2 H1250" stroke-dasharray="2 2.5"/>
<path d="M1224.3 285 H1250" stroke-dasharray="2 2.5"/>
<path d="M1236.7 238 V218.2 H1260.2"/>
<path d="M1250 207.6 V231 M1255.6 207.6 V231"/>
<path d="M1251 288 V312" stroke-dasharray="1.5 1.5"/>
<path d="M1258 288 V312"/>
</g>
<rect x="1249.7" y="231.8" width="6.6" height="55.6" fill="#8a8a8a" stroke="#c4c4c4" stroke-width="1"/>
<rect x="1249" y="230.8" width="9" height="2" fill="#c4c4c4"/>
<rect x="1249" y="286.8" width="9" height="2" fill="#c4c4c4"/>
<circle cx="676" cy="228.6" r="13" fill="#8e8e8e"/>
<text x="675.1" y="234" transform="translate(675.1 0) scale(0.82 1) translate(-675.1 0)" text-anchor="middle" font-family="Liberation Sans" font-size="16.5" fill="#fff" stroke="#fff" stroke-width="0.35">10</text>
<circle cx="823.1" cy="309.7" r="13" fill="#8e8e8e"/>
<text x="822.2" y="315.1" transform="translate(822.2 0) scale(0.82 1) translate(-822.2 0)" text-anchor="middle" font-family="Liberation Sans" font-size="16.5" fill="#fff" stroke="#fff" stroke-width="0.35">01</text>
<circle cx="1148.5" cy="309.7" r="13" fill="#8e8e8e"/>
<text x="1147.6" y="315.1" transform="translate(1147.6 0) scale(0.82 1) translate(-1147.6 0)" text-anchor="middle" font-family="Liberation Sans" font-size="16.5" fill="#fff" stroke="#fff" stroke-width="0.35">02</text>
<circle cx="1357.7" cy="309.7" r="13" fill="#8e8e8e"/>
<text x="1356.8" y="315.1" transform="translate(1356.8 0) scale(0.82 1) translate(-1356.8 0)" text-anchor="middle" font-family="Liberation Sans" font-size="16.5" fill="#fff" stroke="#fff" stroke-width="0.35">03</text>
<circle cx="1594.7" cy="310.9" r="13" fill="#8e8e8e"/>
<text x="1593.8" y="316.3" transform="translate(1593.8 0) scale(0.82 1) translate(-1593.8 0)" text-anchor="middle" font-family="Liberation Sans" font-size="16.5" fill="#fff" stroke="#fff" stroke-width="0.35">04</text>
<circle cx="1594.6" cy="481.3" r="13" fill="#8e8e8e"/>
<text x="1593.7" y="486.7" transform="translate(1593.7 0) scale(0.82 1) translate(-1593.7 0)" text-anchor="middle" font-family="Liberation Sans" font-size="16.5" fill="#fff" stroke="#fff" stroke-width="0.35">05</text>
<circle cx="1360.3" cy="481.3" r="13" fill="#8e8e8e"/>
<text x="1359.4" y="486.7" transform="translate(1359.4 0) scale(0.82 1) translate(-1359.4 0)" text-anchor="middle" font-family="Liberation Sans" font-size="16.5" fill="#fff" stroke="#fff" stroke-width="0.35">06</text>
<circle cx="1215.9" cy="481.3" r="13" fill="#8e8e8e"/>
<text x="1215" y="486.7" transform="translate(1215 0) scale(0.82 1) translate(-1215 0)" text-anchor="middle" font-family="Liberation Sans" font-size="16.5" fill="#fff" stroke="#fff" stroke-width="0.35">07</text>
<circle cx="892" cy="471.8" r="13" fill="#8e8e8e"/>
<text x="891.1" y="477.2" transform="translate(891.1 0) scale(0.82 1) translate(-891.1 0)" text-anchor="middle" font-family="Liberation Sans" font-size="16.5" fill="#fff" stroke="#fff" stroke-width="0.35">08</text>
<circle cx="657" cy="503.6" r="13" fill="#8e8e8e"/>
<text x="656.1" y="509" transform="translate(656.1 0) scale(0.82 1) translate(-656.1 0)" text-anchor="middle" font-family="Liberation Sans" font-size="16.5" fill="#fff" stroke="#fff" stroke-width="0.35">09</text>
</svg>
</body></html>
